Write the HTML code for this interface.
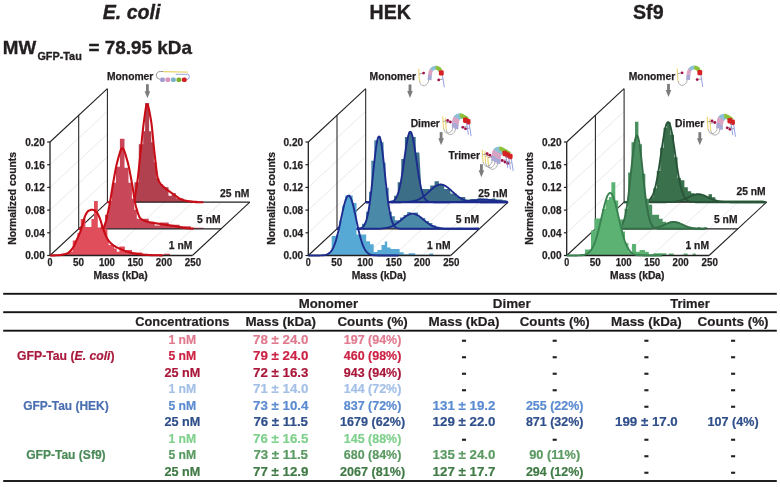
<!DOCTYPE html>
<html><head><meta charset="utf-8"><style>
html,body{margin:0;padding:0;background:#fff;}
body{width:780px;height:487px;position:relative;overflow:hidden;font-family:"Liberation Sans",sans-serif;}
</style></head><body>
<svg width="780" height="487" viewBox="0 0 780 487" style="position:absolute;left:0;top:0;filter:blur(0.3px)"><rect width="780" height="487" fill="#fff"/><g font-family="Liberation Sans, sans-serif"><text x="131.60" y="18.80" font-size="19.6" text-anchor="middle" fill="#231f20" font-weight="bold" font-style="italic" stroke="#231f20" stroke-width="0.35" >E. coli</text><text x="390.30" y="18.80" font-size="19.6" text-anchor="middle" fill="#231f20" font-weight="bold" font-style="normal" stroke="#231f20" stroke-width="0.35" >HEK</text><text x="648.30" y="18.80" font-size="19.6" text-anchor="middle" fill="#231f20" font-weight="bold" font-style="normal" stroke="#231f20" stroke-width="0.35" >Sf9</text><text x="2.80" y="54.20" font-size="19" text-anchor="start" fill="#231f20" font-weight="bold" font-style="normal" stroke="#231f20" stroke-width="0.35" textLength="33.4" lengthAdjust="spacingAndGlyphs">MW</text><text x="37.40" y="60.20" font-size="10" text-anchor="start" fill="#231f20" font-weight="bold" font-style="normal" stroke="#231f20" stroke-width="0.3" textLength="44.4" lengthAdjust="spacingAndGlyphs">GFP-Tau</text><text x="88.60" y="54.20" font-size="19" text-anchor="start" fill="#231f20" font-weight="bold" font-style="normal" stroke="#231f20" stroke-width="0.35" textLength="103.4" lengthAdjust="spacingAndGlyphs">= 78.95 kDa</text><line x1="50.0" y1="232.8" x2="107.4" y2="179.5" stroke="#e6e6e6" stroke-width="0.9"/><line x1="50.0" y1="210.1" x2="107.4" y2="156.8" stroke="#e6e6e6" stroke-width="0.9"/><line x1="50.0" y1="187.4" x2="107.4" y2="134.1" stroke="#e6e6e6" stroke-width="0.9"/><line x1="50.0" y1="164.7" x2="107.4" y2="111.4" stroke="#e6e6e6" stroke-width="0.9"/><line x1="78.5" y1="255.5" x2="135.9" y2="202.2" stroke="#e6e6e6" stroke-width="0.9"/><line x1="107.0" y1="255.5" x2="164.4" y2="202.2" stroke="#e6e6e6" stroke-width="0.9"/><line x1="135.4" y1="255.5" x2="192.8" y2="202.2" stroke="#e6e6e6" stroke-width="0.9"/><line x1="163.9" y1="255.5" x2="221.3" y2="202.2" stroke="#e6e6e6" stroke-width="0.9"/><line x1="50.0" y1="142.0" x2="107.4" y2="88.7" stroke="#231f20" stroke-width="1.05"/><line x1="50.0" y1="255.5" x2="107.4" y2="202.2" stroke="#231f20" stroke-width="1.05"/><line x1="192.4" y1="255.5" x2="249.8" y2="202.2" stroke="#231f20" stroke-width="1.05"/><line x1="107.4" y1="202.2" x2="107.4" y2="88.7" stroke="#231f20" stroke-width="1.05"/><polygon points="131.4,202.2 131.4,201.2 134.4,201.2 134.4,182.2 138.8,182.2 138.8,144.2 143.2,144.2 143.2,131.2 145.1,131.2 145.1,102.9 149.1,102.9 149.1,131.2 151.3,131.2 151.3,142.2 153.9,142.2 153.9,162.2 156.4,162.2 156.4,178.2 159.4,178.2 159.4,184.2 163.0,184.2 163.0,187.2 168.5,187.2 168.5,195.8 171.8,195.8 171.8,193.2 175.9,193.2 175.9,198.2 183.4,198.2 183.4,200.7 197.4,200.7 197.4,202.2 249.8,202.2 249.8,202.2" fill="#b2414f"/><line x1="107.4" y1="202.2" x2="249.8" y2="202.2" stroke="#231f20" stroke-width="1.3"/><path d="M107.4,202.2 L108.1,202.2 L108.8,202.2 L109.5,202.2 L110.2,202.2 L110.9,202.2 L111.6,202.2 L112.3,202.2 L113.0,202.2 L113.7,202.2 L114.4,202.2 L115.1,202.2 L115.8,202.2 L116.5,202.2 L117.2,202.2 L117.9,202.2 L118.6,202.2 L119.3,202.2 L120.0,202.2 L120.7,202.2 L121.4,202.2 L122.1,202.2 L122.8,202.2 L123.5,202.2 L124.2,202.2 L124.9,202.2 L125.6,202.2 L126.3,202.2 L127.0,202.2 L127.7,202.2 L128.4,202.2 L129.1,202.2 L129.8,202.2 L130.5,202.1 L131.2,202.1 L131.9,202.0 L132.6,202.0 L133.3,201.9 L134.0,200.8 L134.7,198.2 L135.4,194.3 L136.1,189.9 L136.8,185.4 L137.5,180.6 L138.2,174.8 L138.9,168.3 L139.6,161.5 L140.3,154.9 L141.0,148.4 L141.7,141.5 L142.4,134.6 L143.1,128.1 L143.8,122.4 L144.5,117.4 L145.2,112.2 L145.9,107.7 L146.6,104.9 L147.3,104.5 L148.0,105.8 L148.7,108.2 L149.4,111.5 L150.1,115.2 L150.8,119.3 L151.5,123.7 L152.2,129.8 L152.9,137.0 L153.6,144.5 L154.3,151.4 L155.0,157.4 L155.7,163.6 L156.4,169.7 L157.1,174.9 L157.8,178.7 L158.5,180.6 L159.2,181.9 L159.9,183.0 L160.6,183.9 L161.3,184.7 L162.0,185.3 L162.7,186.0 L163.4,186.6 L164.1,187.2 L164.8,187.8 L165.5,188.4 L166.2,189.0 L166.9,189.6 L167.6,190.1 L168.3,190.6 L169.0,191.1 L169.7,191.6 L170.4,192.1 L171.1,192.6 L171.8,193.1 L172.5,193.5 L173.2,194.0 L173.9,194.5 L174.6,195.0 L175.3,195.5 L176.0,196.0 L176.7,196.6 L177.4,197.1 L178.1,197.6 L178.8,198.1 L179.5,198.5 L180.2,198.9 L180.9,199.3 L181.6,199.6 L182.3,199.9 L183.0,200.1 L183.7,200.3 L184.4,200.4 L185.1,200.6 L185.8,200.7 L186.5,200.8 L187.2,201.0 L187.9,201.1 L188.6,201.2 L189.3,201.3 L190.0,201.4 L190.7,201.5 L191.4,201.6 L192.1,201.7 L192.8,201.8 L193.5,201.9 L194.2,202.0 L194.9,202.0 L195.6,202.1 L196.3,202.1 L197.0,202.1 L197.7,202.2 L198.4,202.2 L199.1,202.2 L199.8,202.2 L200.5,202.2 L201.2,202.2 L201.9,202.2 L202.6,202.2 L203.3,202.2" fill="none" stroke="#c80d16" stroke-width="2.1" stroke-linejoin="round"/><line x1="78.7" y1="228.8" x2="78.7" y2="115.3" stroke="#231f20" stroke-width="1.05"/><polygon points="100.7,228.8 100.7,225.8 105.0,225.8 105.0,214.7 108.9,214.7 108.9,200.8 111.9,200.8 111.9,182.8 115.9,182.8 115.9,166.8 119.9,166.8 119.9,138.8 124.5,138.8 124.5,167.8 128.5,167.8 128.5,182.8 131.9,182.8 131.9,198.8 134.3,198.8 134.3,209.8 136.8,209.8 136.8,218.8 144.7,218.8 144.7,218.8 148.7,218.8 148.7,221.8 154.7,221.8 154.7,225.5 159.7,225.5 159.7,222.5 168.7,222.5 168.7,224.8 179.7,224.8 179.7,226.3 190.7,226.3 190.7,227.8 203.7,227.8 203.7,228.8 221.1,228.8 221.1,228.8" fill="#c8485a"/><line x1="78.7" y1="228.8" x2="221.1" y2="228.8" stroke="#231f20" stroke-width="1.3"/><path d="M78.7,228.8 L79.4,228.8 L80.1,228.8 L80.8,228.8 L81.5,228.8 L82.2,228.8 L82.9,228.8 L83.6,228.8 L84.3,228.8 L85.0,228.8 L85.7,228.8 L86.4,228.8 L87.1,228.8 L87.8,228.8 L88.5,228.8 L89.2,228.8 L89.9,228.8 L90.6,228.8 L91.3,228.8 L92.0,228.8 L92.7,228.8 L93.4,228.8 L94.1,228.8 L94.8,228.8 L95.5,228.8 L96.2,228.8 L96.9,228.8 L97.6,228.8 L98.3,228.8 L99.0,228.8 L99.7,228.8 L100.4,228.8 L101.1,228.8 L101.8,228.8 L102.5,228.8 L103.2,228.5 L103.9,227.3 L104.6,225.4 L105.3,223.2 L106.0,221.0 L106.7,218.4 L107.4,215.3 L108.1,212.0 L108.8,208.5 L109.5,204.9 L110.2,201.1 L110.9,196.9 L111.6,192.5 L112.3,188.1 L113.0,183.8 L113.7,179.9 L114.4,176.0 L115.1,172.1 L115.8,168.5 L116.5,165.1 L117.2,162.2 L117.9,159.6 L118.6,157.0 L119.3,154.5 L120.0,152.2 L120.7,150.3 L121.4,148.9 L122.1,148.3 L122.8,148.4 L123.5,149.3 L124.2,150.8 L124.9,152.7 L125.6,154.9 L126.3,157.3 L127.0,159.7 L127.7,162.1 L128.4,164.9 L129.1,168.1 L129.8,171.6 L130.5,175.4 L131.2,179.2 L131.9,182.9 L132.6,187.0 L133.3,191.5 L134.0,196.1 L134.7,200.4 L135.4,204.2 L136.1,207.0 L136.8,209.4 L137.5,211.8 L138.2,213.9 L138.9,215.7 L139.6,217.2 L140.3,218.3 L141.0,218.9 L141.7,219.4 L142.4,219.8 L143.1,220.2 L143.8,220.5 L144.5,220.8 L145.2,221.1 L145.9,221.3 L146.6,221.5 L147.3,221.7 L148.0,221.9 L148.7,222.1 L149.4,222.2 L150.1,222.4 L150.8,222.5 L151.5,222.7 L152.2,222.8 L152.9,222.9 L153.6,223.0 L154.3,223.1 L155.0,223.2 L155.7,223.3 L156.4,223.4 L157.1,223.5 L157.8,223.6 L158.5,223.7 L159.2,223.8 L159.9,223.9 L160.6,224.0 L161.3,224.1 L162.0,224.2 L162.7,224.4 L163.4,224.5 L164.1,224.6 L164.8,224.7 L165.5,224.8 L166.2,224.9 L166.9,225.0 L167.6,225.1 L168.3,225.2 L169.0,225.3 L169.7,225.4 L170.4,225.5 L171.1,225.6 L171.8,225.7 L172.5,225.8 L173.2,225.9 L173.9,226.0 L174.6,226.1 L175.3,226.2 L176.0,226.4 L176.7,226.5 L177.4,226.6 L178.1,226.8 L178.8,226.9 L179.5,227.0 L180.2,227.2 L180.9,227.3 L181.6,227.4 L182.3,227.6 L183.0,227.7 L183.7,227.8 L184.4,227.9 L185.1,228.0 L185.8,228.1 L186.5,228.2 L187.2,228.2 L187.9,228.3 L188.6,228.3 L189.3,228.4 L190.0,228.4 L190.7,228.5 L191.4,228.5 L192.1,228.5 L192.8,228.6 L193.5,228.6" fill="none" stroke="#c80d16" stroke-width="2.1" stroke-linejoin="round"/><line x1="50.0" y1="255.5" x2="50.0" y2="142.0" stroke="#231f20" stroke-width="1.3"/><polygon points="65.0,255.5 65.0,254.0 68.0,254.0 68.0,251.5 72.7,251.5 72.7,240.5 77.4,240.5 77.4,233.1 80.7,233.1 80.7,219.1 85.4,219.1 85.4,227.1 91.4,227.1 91.4,219.1 94.0,219.1 94.0,201.0 97.8,201.0 97.8,227.7 100.0,227.7 100.0,228.4 107.4,228.4 107.4,239.5 108.7,239.5 108.7,245.1 114.0,245.1 114.0,248.5 116.8,248.5 116.8,251.8 119.4,251.8 119.4,246.5 124.8,246.5 124.8,250.0 132.0,250.0 132.0,252.5 142.3,252.5 142.3,254.5 164.0,254.5 164.0,253.8 170.0,253.8 170.0,255.5 192.4,255.5 192.4,255.5" fill="#e04d5b"/><line x1="50.0" y1="255.5" x2="192.4" y2="255.5" stroke="#231f20" stroke-width="1.3"/><path d="M50.0,255.5 L50.7,255.5 L51.4,255.5 L52.1,255.5 L52.8,255.5 L53.5,255.4 L54.2,255.4 L54.9,255.4 L55.6,255.3 L56.3,255.3 L57.0,255.3 L57.7,255.2 L58.4,255.2 L59.1,255.1 L59.8,255.0 L60.5,255.0 L61.2,254.9 L61.9,254.8 L62.6,254.6 L63.3,254.5 L64.0,254.3 L64.7,254.2 L65.4,254.0 L66.1,253.8 L66.8,253.6 L67.5,253.3 L68.2,252.9 L68.9,252.4 L69.6,251.8 L70.3,251.0 L71.0,250.3 L71.7,249.4 L72.4,248.5 L73.1,247.5 L73.8,246.3 L74.5,244.9 L75.2,243.4 L75.9,241.8 L76.6,240.3 L77.3,238.8 L78.0,237.2 L78.7,235.6 L79.4,233.9 L80.1,232.2 L80.8,230.3 L81.5,228.4 L82.2,226.2 L82.9,223.5 L83.6,220.8 L84.3,218.3 L85.0,216.1 L85.7,214.6 L86.4,213.4 L87.1,212.3 L87.8,211.4 L88.5,210.8 L89.2,210.4 L89.9,210.2 L90.6,209.9 L91.3,209.8 L92.0,209.7 L92.7,209.7 L93.4,209.9 L94.1,210.2 L94.8,210.6 L95.5,211.1 L96.2,211.7 L96.9,212.5 L97.6,213.6 L98.3,214.9 L99.0,216.4 L99.7,218.0 L100.4,219.9 L101.1,222.2 L101.8,224.6 L102.5,226.9 L103.2,228.9 L103.9,230.8 L104.6,232.7 L105.3,234.4 L106.0,236.0 L106.7,237.4 L107.4,238.7 L108.1,239.9 L108.8,240.9 L109.5,241.8 L110.2,242.6 L110.9,243.3 L111.6,243.9 L112.3,244.5 L113.0,245.0 L113.7,245.5 L114.4,246.0 L115.1,246.4 L115.8,246.9 L116.5,247.2 L117.2,247.6 L117.9,247.9 L118.6,248.2 L119.3,248.5 L120.0,248.8 L120.7,249.1 L121.4,249.4 L122.1,249.7 L122.8,250.0 L123.5,250.3 L124.2,250.6 L124.9,250.9 L125.6,251.2 L126.3,251.4 L127.0,251.6 L127.7,251.8 L128.4,252.1 L129.1,252.3 L129.8,252.5 L130.5,252.6 L131.2,252.8 L131.9,253.0 L132.6,253.1 L133.3,253.3 L134.0,253.4 L134.7,253.5 L135.4,253.6 L136.1,253.7 L136.8,253.9 L137.5,254.0 L138.2,254.1 L138.9,254.2 L139.6,254.2 L140.3,254.3 L141.0,254.4 L141.7,254.5 L142.4,254.5 L143.1,254.6 L143.8,254.7 L144.5,254.7 L145.2,254.8 L145.9,254.8 L146.6,254.9 L147.3,254.9 L148.0,255.0 L148.7,255.0 L149.4,255.0 L150.1,255.1 L150.8,255.1 L151.5,255.1 L152.2,255.1 L152.9,255.2 L153.6,255.2 L154.3,255.2 L155.0,255.2 L155.7,255.3 L156.4,255.3 L157.1,255.3 L157.8,255.3 L158.5,255.3 L159.2,255.3 L159.9,255.4 L160.6,255.4 L161.3,255.4 L162.0,255.4 L162.7,255.4" fill="none" stroke="#c80d16" stroke-width="2.1" stroke-linejoin="round"/><line x1="47.2" y1="255.5" x2="50.0" y2="255.5" stroke="#231f20" stroke-width="1.2"/><text x="44.80" y="259.30" font-size="11" text-anchor="end" fill="#231f20" font-weight="bold" font-style="normal" stroke="#231f20" stroke-width="0.25" textLength="19.6" lengthAdjust="spacingAndGlyphs">0.00</text><line x1="47.2" y1="232.8" x2="50.0" y2="232.8" stroke="#231f20" stroke-width="1.2"/><text x="44.80" y="236.60" font-size="11" text-anchor="end" fill="#231f20" font-weight="bold" font-style="normal" stroke="#231f20" stroke-width="0.25" textLength="19.6" lengthAdjust="spacingAndGlyphs">0.04</text><line x1="47.2" y1="210.1" x2="50.0" y2="210.1" stroke="#231f20" stroke-width="1.2"/><text x="44.80" y="213.90" font-size="11" text-anchor="end" fill="#231f20" font-weight="bold" font-style="normal" stroke="#231f20" stroke-width="0.25" textLength="19.6" lengthAdjust="spacingAndGlyphs">0.08</text><line x1="47.2" y1="187.4" x2="50.0" y2="187.4" stroke="#231f20" stroke-width="1.2"/><text x="44.80" y="191.20" font-size="11" text-anchor="end" fill="#231f20" font-weight="bold" font-style="normal" stroke="#231f20" stroke-width="0.25" textLength="19.6" lengthAdjust="spacingAndGlyphs">0.12</text><line x1="47.2" y1="164.7" x2="50.0" y2="164.7" stroke="#231f20" stroke-width="1.2"/><text x="44.80" y="168.50" font-size="11" text-anchor="end" fill="#231f20" font-weight="bold" font-style="normal" stroke="#231f20" stroke-width="0.25" textLength="19.6" lengthAdjust="spacingAndGlyphs">0.16</text><line x1="47.2" y1="142.0" x2="50.0" y2="142.0" stroke="#231f20" stroke-width="1.2"/><text x="44.80" y="145.80" font-size="11" text-anchor="end" fill="#231f20" font-weight="bold" font-style="normal" stroke="#231f20" stroke-width="0.25" textLength="19.6" lengthAdjust="spacingAndGlyphs">0.20</text><text x="50.00" y="265.70" font-size="11" text-anchor="middle" fill="#231f20" font-weight="bold" font-style="normal" stroke="#231f20" stroke-width="0.25" textLength="5.0" lengthAdjust="spacingAndGlyphs">0</text><text x="78.48" y="265.70" font-size="11" text-anchor="middle" fill="#231f20" font-weight="bold" font-style="normal" stroke="#231f20" stroke-width="0.25" textLength="11.0" lengthAdjust="spacingAndGlyphs">50</text><text x="106.96" y="265.70" font-size="11" text-anchor="middle" fill="#231f20" font-weight="bold" font-style="normal" stroke="#231f20" stroke-width="0.25" textLength="16.0" lengthAdjust="spacingAndGlyphs">100</text><text x="135.44" y="265.70" font-size="11" text-anchor="middle" fill="#231f20" font-weight="bold" font-style="normal" stroke="#231f20" stroke-width="0.25" textLength="16.0" lengthAdjust="spacingAndGlyphs">150</text><text x="163.92" y="265.70" font-size="11" text-anchor="middle" fill="#231f20" font-weight="bold" font-style="normal" stroke="#231f20" stroke-width="0.25" textLength="16.3" lengthAdjust="spacingAndGlyphs">200</text><text x="193.00" y="265.70" font-size="11" text-anchor="middle" fill="#231f20" font-weight="bold" font-style="normal" stroke="#231f20" stroke-width="0.25" textLength="16.3" lengthAdjust="spacingAndGlyphs">250</text><text x="120.60" y="278.80" font-size="10.3" text-anchor="middle" fill="#231f20" font-weight="bold" font-style="normal" stroke="#231f20" stroke-width="0.25" >Mass (kDa)</text><text x="0" y="0" font-size="10.4" text-anchor="middle" fill="#231f20" stroke="#231f20" stroke-width="0.25" font-weight="bold" transform="translate(16.40,198.4) rotate(-90)">Normalized counts</text><text x="168.80" y="249.20" font-size="10.3" text-anchor="start" fill="#231f20" font-weight="bold" font-style="normal" stroke="#231f20" stroke-width="0.25" >1 nM</text><text x="197.10" y="222.90" font-size="10.3" text-anchor="start" fill="#231f20" font-weight="bold" font-style="normal" stroke="#231f20" stroke-width="0.25" >5 nM</text><text x="220.10" y="196.80" font-size="10.3" text-anchor="start" fill="#231f20" font-weight="bold" font-style="normal" stroke="#231f20" stroke-width="0.25" >25 nM</text><line x1="308.3" y1="232.8" x2="365.7" y2="179.5" stroke="#e6e6e6" stroke-width="0.9"/><line x1="308.3" y1="210.1" x2="365.7" y2="156.8" stroke="#e6e6e6" stroke-width="0.9"/><line x1="308.3" y1="187.4" x2="365.7" y2="134.1" stroke="#e6e6e6" stroke-width="0.9"/><line x1="308.3" y1="164.7" x2="365.7" y2="111.4" stroke="#e6e6e6" stroke-width="0.9"/><line x1="336.8" y1="255.5" x2="394.2" y2="202.2" stroke="#e6e6e6" stroke-width="0.9"/><line x1="365.3" y1="255.5" x2="422.7" y2="202.2" stroke="#e6e6e6" stroke-width="0.9"/><line x1="393.7" y1="255.5" x2="451.1" y2="202.2" stroke="#e6e6e6" stroke-width="0.9"/><line x1="422.2" y1="255.5" x2="479.6" y2="202.2" stroke="#e6e6e6" stroke-width="0.9"/><line x1="308.3" y1="142.0" x2="365.7" y2="88.7" stroke="#231f20" stroke-width="1.05"/><line x1="308.3" y1="255.5" x2="365.7" y2="202.2" stroke="#231f20" stroke-width="1.05"/><line x1="450.7" y1="255.5" x2="508.1" y2="202.2" stroke="#231f20" stroke-width="1.05"/><line x1="365.7" y1="202.2" x2="365.7" y2="88.7" stroke="#231f20" stroke-width="1.05"/><polygon points="390.5,202.2 390.5,200.8 394.1,200.8 394.1,195.8 397.7,195.8 397.7,182.3 401.3,182.3 401.3,159.1 404.9,159.1 404.9,137.0 408.5,137.0 408.5,131.8 412.1,131.8 412.1,137.0 415.7,137.0 415.7,152.6 419.3,152.6 421.4,189.0 430.2,189.0 430.2,185.5 434.6,185.5 434.6,181.2 438.9,181.2 438.9,184.7 444.2,184.7 444.2,189.0 450.4,189.0 450.4,193.4 456.6,193.4 456.6,196.9 465.3,196.9 465.3,199.5 470.2,199.5 470.2,199.1 473.8,199.1 473.8,199.3 477.4,199.3 477.4,198.2 481.0,198.2 481.0,198.6 484.6,198.6 484.6,198.7 488.2,198.7 488.2,199.0 491.8,199.0 491.8,198.6 495.4,198.6 495.4,199.6 499.0,199.6 499.0,199.5 502.6,199.5 502.6,200.2 506.2,200.2 506.2,202.2" fill="#3d6e88"/><line x1="365.7" y1="202.2" x2="508.1" y2="202.2" stroke="#231f20" stroke-width="1.3"/><path d="M365.7,202.2 L366.4,202.2 L367.1,202.2 L367.8,202.2 L368.5,202.2 L369.2,202.2 L369.9,202.2 L370.6,202.2 L371.3,202.2 L372.0,202.2 L372.7,202.2 L373.4,202.2 L374.1,202.2 L374.8,202.2 L375.5,202.2 L376.2,202.2 L376.9,202.2 L377.6,202.2 L378.3,202.2 L379.0,202.2 L379.7,202.2 L380.4,202.2 L381.1,202.2 L381.8,202.2 L382.5,202.2 L383.2,202.2 L383.9,202.2 L384.6,202.2 L385.3,202.2 L386.0,202.2 L386.7,202.2 L387.4,202.2 L388.1,202.1 L388.8,202.1 L389.5,202.0 L390.2,201.9 L390.9,201.8 L391.6,201.7 L392.3,201.4 L393.0,201.1 L393.7,200.7 L394.4,200.1 L395.1,199.4 L395.8,198.4 L396.5,197.2 L397.2,195.7 L397.9,193.9 L398.6,191.7 L399.3,189.1 L400.0,186.1 L400.7,182.6 L401.4,178.8 L402.1,174.5 L402.8,170.0 L403.5,165.2 L404.2,160.2 L404.9,155.2 L405.6,150.4 L406.3,145.8 L407.0,141.7 L407.7,138.1 L408.4,135.2 L409.1,133.2 L409.8,132.0 L410.5,131.8 L411.2,132.6 L411.9,134.3 L412.6,136.8 L413.3,140.1 L414.0,144.0 L414.7,148.4 L415.4,153.1 L416.1,158.1 L416.8,163.1 L417.5,167.9 L418.2,172.6 L418.9,177.0 L419.6,181.0 L420.3,184.6 L421.0,187.8 L421.7,190.6 L422.4,193.0 L423.1,195.0 L423.8,196.6 L424.5,197.9 L425.2,199.0 L425.9,199.8 L426.6,200.4 L427.3,200.9 L428.0,201.3 L428.7,201.6 L429.4,201.8 L430.1,201.9 L430.8,202.0 L431.5,202.1 L432.2,202.1 L432.9,202.1 L433.6,202.2 L434.3,202.2 L435.0,202.2 L435.7,202.2 L436.4,202.2 L437.1,202.2 L437.8,202.2 L438.5,202.2 L439.2,202.2 L439.9,202.2 L440.6,202.2 L441.3,202.2 L442.0,202.2 L442.7,202.2 L443.4,202.2 L444.1,202.2 L444.8,202.2 L445.5,202.2 L446.2,202.2 L446.9,202.2 L447.6,202.2 L448.3,202.2 L449.0,202.2 L449.7,202.2 L450.4,202.2 L451.1,202.2 L451.8,202.2 L452.5,202.2 L453.2,202.2 L453.9,202.2 L454.6,202.2 L455.3,202.2 L456.0,202.2 L456.7,202.2 L457.4,202.2 L458.1,202.2 L458.8,202.2 L459.5,202.2 L460.2,202.2 L460.9,202.2 L461.6,202.2 L462.3,202.2 L463.0,202.2 L463.7,202.2 L464.4,202.2 L465.1,202.2 L465.8,202.2 L466.5,202.2 L467.2,202.2 L467.9,202.2 L468.6,202.2 L469.3,202.2 L470.0,202.2 L470.7,202.2 L471.4,202.2 L472.1,202.2 L472.8,202.2 L473.5,202.2 L474.2,202.2 L474.9,202.2 L475.6,202.2 L476.3,202.2 L477.0,202.2 L477.7,202.2 L478.4,202.2 L479.1,202.2 L479.8,202.2 L480.5,202.2 L481.2,202.2 L481.9,202.2 L482.6,202.2 L483.3,202.2 L484.0,202.2 L484.7,202.2 L485.4,202.2 L486.1,202.2 L486.8,202.2 L487.5,202.2 L488.2,202.2 L488.9,202.2 L489.6,202.2 L490.3,202.2 L491.0,202.2 L491.7,202.2 L492.4,202.2 L493.1,202.2 L493.8,202.2 L494.5,202.2 L495.2,202.2 L495.9,202.2 L496.6,202.2 L497.3,202.2 L498.0,202.2 L498.7,202.2 L499.4,202.2 L500.1,202.2 L500.8,202.2 L501.5,202.2 L502.2,202.2 L502.9,202.2 L503.6,202.2 L504.3,202.2 L505.0,202.2 L505.7,202.2 L506.4,202.2 L507.1,202.2 L507.8,202.2" fill="none" stroke="#1c2c8e" stroke-width="1.9" stroke-linejoin="round"/><path d="M365.7,202.2 L366.4,202.2 L367.1,202.2 L367.8,202.2 L368.5,202.2 L369.2,202.2 L369.9,202.2 L370.6,202.2 L371.3,202.2 L372.0,202.2 L372.7,202.2 L373.4,202.2 L374.1,202.2 L374.8,202.2 L375.5,202.2 L376.2,202.2 L376.9,202.2 L377.6,202.2 L378.3,202.2 L379.0,202.2 L379.7,202.2 L380.4,202.2 L381.1,202.2 L381.8,202.2 L382.5,202.2 L383.2,202.2 L383.9,202.2 L384.6,202.2 L385.3,202.2 L386.0,202.2 L386.7,202.2 L387.4,202.2 L388.1,202.2 L388.8,202.2 L389.5,202.2 L390.2,202.2 L390.9,202.2 L391.6,202.2 L392.3,202.2 L393.0,202.2 L393.7,202.2 L394.4,202.2 L395.1,202.2 L395.8,202.2 L396.5,202.2 L397.2,202.2 L397.9,202.2 L398.6,202.2 L399.3,202.2 L400.0,202.2 L400.7,202.2 L401.4,202.1 L402.1,202.1 L402.8,202.1 L403.5,202.1 L404.2,202.1 L404.9,202.1 L405.6,202.0 L406.3,202.0 L407.0,202.0 L407.7,201.9 L408.4,201.9 L409.1,201.8 L409.8,201.7 L410.5,201.6 L411.2,201.5 L411.9,201.4 L412.6,201.3 L413.3,201.2 L414.0,201.0 L414.7,200.8 L415.4,200.6 L416.1,200.4 L416.8,200.2 L417.5,199.9 L418.2,199.6 L418.9,199.3 L419.6,198.9 L420.3,198.5 L421.0,198.1 L421.7,197.7 L422.4,197.2 L423.1,196.7 L423.8,196.2 L424.5,195.6 L425.2,195.1 L425.9,194.5 L426.6,193.9 L427.3,193.2 L428.0,192.6 L428.7,191.9 L429.4,191.3 L430.1,190.6 L430.8,190.0 L431.5,189.3 L432.2,188.7 L432.9,188.1 L433.6,187.6 L434.3,187.0 L435.0,186.5 L435.7,186.1 L436.4,185.7 L437.1,185.3 L437.8,185.1 L438.5,184.8 L439.2,184.6 L439.9,184.5 L440.6,184.5 L441.3,184.5 L442.0,184.6 L442.7,184.8 L443.4,185.0 L444.1,185.3 L444.8,185.6 L445.5,186.0 L446.2,186.4 L446.9,186.9 L447.6,187.4 L448.3,188.0 L449.0,188.6 L449.7,189.2 L450.4,189.8 L451.1,190.4 L451.8,191.1 L452.5,191.7 L453.2,192.4 L453.9,193.0 L454.6,193.7 L455.3,194.3 L456.0,194.9 L456.7,195.5 L457.4,196.0 L458.1,196.6 L458.8,197.1 L459.5,197.5 L460.2,198.0 L460.9,198.4 L461.6,198.8 L462.3,199.2 L463.0,199.5 L463.7,199.8 L464.4,200.1 L465.1,200.3 L465.8,200.6 L466.5,200.8 L467.2,201.0 L467.9,201.1 L468.6,201.3 L469.3,201.4 L470.0,201.5 L470.7,201.6 L471.4,201.7 L472.1,201.8 L472.8,201.8 L473.5,201.9 L474.2,201.9 L474.9,202.0 L475.6,202.0 L476.3,202.1 L477.0,202.1 L477.7,202.1 L478.4,202.1 L479.1,202.1 L479.8,202.1 L480.5,202.2 L481.2,202.2 L481.9,202.2 L482.6,202.2 L483.3,202.2 L484.0,202.2 L484.7,202.2 L485.4,202.2 L486.1,202.2 L486.8,202.2 L487.5,202.2 L488.2,202.2 L488.9,202.2 L489.6,202.2 L490.3,202.2 L491.0,202.2 L491.7,202.2 L492.4,202.2 L493.1,202.2 L493.8,202.2 L494.5,202.2 L495.2,202.2 L495.9,202.2 L496.6,202.2 L497.3,202.2 L498.0,202.2 L498.7,202.2 L499.4,202.2 L500.1,202.2 L500.8,202.2 L501.5,202.2 L502.2,202.2 L502.9,202.2 L503.6,202.2 L504.3,202.2 L505.0,202.2 L505.7,202.2 L506.4,202.2 L507.1,202.2 L507.8,202.2" fill="none" stroke="#1c2c8e" stroke-width="1.9" stroke-linejoin="round"/><path d="M365.7,202.2 L366.4,202.2 L367.1,202.2 L367.8,202.2 L368.5,202.2 L369.2,202.2 L369.9,202.2 L370.6,202.2 L371.3,202.2 L372.0,202.2 L372.7,202.2 L373.4,202.2 L374.1,202.2 L374.8,202.2 L375.5,202.2 L376.2,202.2 L376.9,202.2 L377.6,202.2 L378.3,202.2 L379.0,202.2 L379.7,202.2 L380.4,202.2 L381.1,202.2 L381.8,202.2 L382.5,202.2 L383.2,202.2 L383.9,202.2 L384.6,202.2 L385.3,202.2 L386.0,202.2 L386.7,202.2 L387.4,202.2 L388.1,202.2 L388.8,202.2 L389.5,202.2 L390.2,202.2 L390.9,202.2 L391.6,202.2 L392.3,202.2 L393.0,202.2 L393.7,202.2 L394.4,202.2 L395.1,202.2 L395.8,202.2 L396.5,202.2 L397.2,202.2 L397.9,202.2 L398.6,202.2 L399.3,202.2 L400.0,202.2 L400.7,202.2 L401.4,202.2 L402.1,202.2 L402.8,202.2 L403.5,202.2 L404.2,202.2 L404.9,202.2 L405.6,202.2 L406.3,202.2 L407.0,202.2 L407.7,202.2 L408.4,202.2 L409.1,202.2 L409.8,202.2 L410.5,202.2 L411.2,202.2 L411.9,202.2 L412.6,202.2 L413.3,202.2 L414.0,202.2 L414.7,202.2 L415.4,202.2 L416.1,202.2 L416.8,202.2 L417.5,202.2 L418.2,202.2 L418.9,202.2 L419.6,202.2 L420.3,202.2 L421.0,202.2 L421.7,202.2 L422.4,202.2 L423.1,202.2 L423.8,202.2 L424.5,202.2 L425.2,202.2 L425.9,202.2 L426.6,202.2 L427.3,202.2 L428.0,202.2 L428.7,202.2 L429.4,202.2 L430.1,202.2 L430.8,202.2 L431.5,202.2 L432.2,202.2 L432.9,202.2 L433.6,202.2 L434.3,202.2 L435.0,202.2 L435.7,202.2 L436.4,202.2 L437.1,202.2 L437.8,202.2 L438.5,202.2 L439.2,202.2 L439.9,202.2 L440.6,202.2 L441.3,202.2 L442.0,202.2 L442.7,202.2 L443.4,202.2 L444.1,202.2 L444.8,202.2 L445.5,202.2 L446.2,202.2 L446.9,202.2 L447.6,202.2 L448.3,202.2 L449.0,202.2 L449.7,202.2 L450.4,202.1 L451.1,202.1 L451.8,202.1 L452.5,202.1 L453.2,202.1 L453.9,202.1 L454.6,202.1 L455.3,202.0 L456.0,202.0 L456.7,202.0 L457.4,202.0 L458.1,201.9 L458.8,201.9 L459.5,201.9 L460.2,201.8 L460.9,201.8 L461.6,201.7 L462.3,201.7 L463.0,201.6 L463.7,201.6 L464.4,201.5 L465.1,201.4 L465.8,201.4 L466.5,201.3 L467.2,201.2 L467.9,201.1 L468.6,201.1 L469.3,201.0 L470.0,200.9 L470.7,200.8 L471.4,200.7 L472.1,200.6 L472.8,200.5 L473.5,200.5 L474.2,200.4 L474.9,200.3 L475.6,200.2 L476.3,200.1 L477.0,200.1 L477.7,200.0 L478.4,199.9 L479.1,199.9 L479.8,199.8 L480.5,199.8 L481.2,199.8 L481.9,199.7 L482.6,199.7 L483.3,199.7 L484.0,199.7 L484.7,199.7 L485.4,199.7 L486.1,199.7 L486.8,199.8 L487.5,199.8 L488.2,199.9 L488.9,199.9 L489.6,200.0 L490.3,200.1 L491.0,200.1 L491.7,200.2 L492.4,200.3 L493.1,200.4 L493.8,200.4 L494.5,200.5 L495.2,200.6 L495.9,200.7 L496.6,200.8 L497.3,200.9 L498.0,201.0 L498.7,201.1 L499.4,201.1 L500.1,201.2 L500.8,201.3 L501.5,201.4 L502.2,201.4 L502.9,201.5 L503.6,201.6 L504.3,201.6 L505.0,201.7 L505.7,201.7 L506.4,201.8 L507.1,201.8 L507.8,201.9" fill="none" stroke="#1c2c8e" stroke-width="1.9" stroke-linejoin="round"/><line x1="337.0" y1="228.8" x2="337.0" y2="115.3" stroke="#231f20" stroke-width="1.05"/><polygon points="359.0,228.8 359.0,227.8 362.0,227.8 362.0,223.8 366.0,223.8 366.0,211.8 369.0,211.8 369.0,191.8 371.3,191.8 371.3,160.8 374.3,160.8 374.3,140.2 378.4,140.2 378.4,136.1 380.5,136.1 380.5,142.3 383.6,142.3 383.6,162.8 385.6,162.8 385.6,187.8 388.7,187.8 388.7,211.8 391.8,211.8 391.8,216.2 394.9,216.2 394.9,220.2 400.0,220.2 400.0,217.6 403.6,217.6 403.6,215.1 407.2,215.1 407.2,212.0 410.8,212.0 410.8,214.5 414.4,214.5 414.4,212.4 418.0,212.4 418.0,217.0 421.6,217.0 421.6,217.9 425.2,217.9 425.2,220.9 428.8,220.9 428.8,222.9 432.4,222.9 432.4,225.4 436.0,225.4 436.0,226.8 439.6,226.8 439.6,227.7 443.2,227.7 443.2,228.4 446.8,228.4 446.8,228.4 450.4,228.4 450.4,228.4 454.0,228.4 454.0,228.4 457.6,228.4 457.6,227.7 461.2,227.7 461.2,228.4 464.8,228.4 464.8,228.4 468.4,228.4 468.4,228.4 472.0,228.4 472.0,228.4 475.6,228.4 475.6,227.7 479.2,227.7 479.2,228.8" fill="#4b89a9"/><line x1="337.0" y1="228.8" x2="479.4" y2="228.8" stroke="#231f20" stroke-width="1.3"/><path d="M337.0,228.8 L337.7,228.8 L338.4,228.8 L339.1,228.8 L339.8,228.8 L340.5,228.8 L341.2,228.8 L341.9,228.8 L342.6,228.8 L343.3,228.8 L344.0,228.8 L344.7,228.8 L345.4,228.8 L346.1,228.8 L346.8,228.8 L347.5,228.8 L348.2,228.8 L348.9,228.8 L349.6,228.8 L350.3,228.8 L351.0,228.8 L351.7,228.8 L352.4,228.8 L353.1,228.8 L353.8,228.8 L354.5,228.8 L355.2,228.8 L355.9,228.8 L356.6,228.8 L357.3,228.8 L358.0,228.7 L358.7,228.6 L359.4,228.5 L360.1,228.4 L360.8,228.2 L361.5,227.9 L362.2,227.5 L362.9,226.9 L363.6,226.1 L364.3,225.1 L365.0,223.8 L365.7,222.2 L366.4,220.1 L367.1,217.6 L367.8,214.5 L368.5,210.9 L369.2,206.7 L369.9,201.9 L370.6,196.5 L371.3,190.6 L372.0,184.2 L372.7,177.6 L373.4,170.9 L374.1,164.2 L374.8,157.8 L375.5,151.8 L376.2,146.6 L376.9,142.3 L377.6,139.1 L378.3,137.1 L379.0,136.4 L379.7,137.1 L380.4,139.1 L381.1,142.3 L381.8,146.6 L382.5,151.8 L383.2,157.8 L383.9,164.2 L384.6,170.9 L385.3,177.6 L386.0,184.2 L386.7,190.6 L387.4,196.5 L388.1,201.9 L388.8,206.7 L389.5,210.9 L390.2,214.5 L390.9,217.6 L391.6,220.1 L392.3,222.2 L393.0,223.8 L393.7,225.1 L394.4,226.1 L395.1,226.9 L395.8,227.5 L396.5,227.9 L397.2,228.2 L397.9,228.4 L398.6,228.5 L399.3,228.6 L400.0,228.7 L400.7,228.8 L401.4,228.8 L402.1,228.8 L402.8,228.8 L403.5,228.8 L404.2,228.8 L404.9,228.8 L405.6,228.8 L406.3,228.8 L407.0,228.8 L407.7,228.8 L408.4,228.8 L409.1,228.8 L409.8,228.8 L410.5,228.8 L411.2,228.8 L411.9,228.8 L412.6,228.8 L413.3,228.8 L414.0,228.8 L414.7,228.8 L415.4,228.8 L416.1,228.8 L416.8,228.8 L417.5,228.8 L418.2,228.8 L418.9,228.8 L419.6,228.8 L420.3,228.8 L421.0,228.8 L421.7,228.8 L422.4,228.8 L423.1,228.8 L423.8,228.8 L424.5,228.8 L425.2,228.8 L425.9,228.8 L426.6,228.8 L427.3,228.8 L428.0,228.8 L428.7,228.8 L429.4,228.8 L430.1,228.8 L430.8,228.8 L431.5,228.8 L432.2,228.8 L432.9,228.8 L433.6,228.8 L434.3,228.8 L435.0,228.8 L435.7,228.8 L436.4,228.8 L437.1,228.8 L437.8,228.8 L438.5,228.8 L439.2,228.8 L439.9,228.8 L440.6,228.8 L441.3,228.8 L442.0,228.8 L442.7,228.8 L443.4,228.8 L444.1,228.8 L444.8,228.8 L445.5,228.8 L446.2,228.8 L446.9,228.8 L447.6,228.8 L448.3,228.8 L449.0,228.8 L449.7,228.8 L450.4,228.8 L451.1,228.8 L451.8,228.8 L452.5,228.8 L453.2,228.8 L453.9,228.8 L454.6,228.8 L455.3,228.8 L456.0,228.8 L456.7,228.8 L457.4,228.8 L458.1,228.8 L458.8,228.8 L459.5,228.8 L460.2,228.8 L460.9,228.8 L461.6,228.8 L462.3,228.8 L463.0,228.8 L463.7,228.8 L464.4,228.8 L465.1,228.8 L465.8,228.8 L466.5,228.8 L467.2,228.8 L467.9,228.8 L468.6,228.8 L469.3,228.8 L470.0,228.8 L470.7,228.8 L471.4,228.8 L472.1,228.8 L472.8,228.8 L473.5,228.8 L474.2,228.8 L474.9,228.8 L475.6,228.8 L476.3,228.8 L477.0,228.8 L477.7,228.8 L478.4,228.8 L479.1,228.8" fill="none" stroke="#1c2c8e" stroke-width="1.9" stroke-linejoin="round"/><path d="M337.0,228.8 L337.7,228.8 L338.4,228.8 L339.1,228.8 L339.8,228.8 L340.5,228.8 L341.2,228.8 L341.9,228.8 L342.6,228.8 L343.3,228.8 L344.0,228.8 L344.7,228.8 L345.4,228.8 L346.1,228.8 L346.8,228.8 L347.5,228.8 L348.2,228.8 L348.9,228.8 L349.6,228.8 L350.3,228.8 L351.0,228.8 L351.7,228.8 L352.4,228.8 L353.1,228.8 L353.8,228.8 L354.5,228.8 L355.2,228.8 L355.9,228.8 L356.6,228.8 L357.3,228.8 L358.0,228.8 L358.7,228.8 L359.4,228.8 L360.1,228.8 L360.8,228.8 L361.5,228.8 L362.2,228.8 L362.9,228.8 L363.6,228.8 L364.3,228.8 L365.0,228.8 L365.7,228.8 L366.4,228.8 L367.1,228.8 L367.8,228.8 L368.5,228.8 L369.2,228.8 L369.9,228.8 L370.6,228.8 L371.3,228.8 L372.0,228.8 L372.7,228.8 L373.4,228.8 L374.1,228.8 L374.8,228.8 L375.5,228.8 L376.2,228.8 L376.9,228.8 L377.6,228.8 L378.3,228.7 L379.0,228.7 L379.7,228.7 L380.4,228.6 L381.1,228.6 L381.8,228.5 L382.5,228.5 L383.2,228.4 L383.9,228.3 L384.6,228.2 L385.3,228.1 L386.0,228.0 L386.7,227.9 L387.4,227.7 L388.1,227.6 L388.8,227.4 L389.5,227.2 L390.2,226.9 L390.9,226.7 L391.6,226.4 L392.3,226.1 L393.0,225.7 L393.7,225.3 L394.4,225.0 L395.1,224.5 L395.8,224.1 L396.5,223.6 L397.2,223.1 L397.9,222.6 L398.6,222.1 L399.3,221.5 L400.0,220.9 L400.7,220.4 L401.4,219.8 L402.1,219.2 L402.8,218.6 L403.5,218.0 L404.2,217.5 L404.9,217.0 L405.6,216.4 L406.3,216.0 L407.0,215.5 L407.7,215.1 L408.4,214.8 L409.1,214.5 L409.8,214.2 L410.5,214.0 L411.2,213.9 L411.9,213.8 L412.6,213.8 L413.3,213.8 L414.0,213.9 L414.7,214.0 L415.4,214.3 L416.1,214.5 L416.8,214.9 L417.5,215.2 L418.2,215.6 L418.9,216.1 L419.6,216.6 L420.3,217.1 L421.0,217.6 L421.7,218.2 L422.4,218.8 L423.1,219.4 L423.8,219.9 L424.5,220.5 L425.2,221.1 L425.9,221.7 L426.6,222.2 L427.3,222.7 L428.0,223.3 L428.7,223.7 L429.4,224.2 L430.1,224.7 L430.8,225.1 L431.5,225.5 L432.2,225.8 L432.9,226.1 L433.6,226.5 L434.3,226.7 L435.0,227.0 L435.7,227.2 L436.4,227.4 L437.1,227.6 L437.8,227.8 L438.5,227.9 L439.2,228.1 L439.9,228.2 L440.6,228.3 L441.3,228.4 L442.0,228.4 L442.7,228.5 L443.4,228.6 L444.1,228.6 L444.8,228.6 L445.5,228.7 L446.2,228.7 L446.9,228.7 L447.6,228.8 L448.3,228.8 L449.0,228.8 L449.7,228.8 L450.4,228.8 L451.1,228.8 L451.8,228.8 L452.5,228.8 L453.2,228.8 L453.9,228.8 L454.6,228.8 L455.3,228.8 L456.0,228.8 L456.7,228.8 L457.4,228.8 L458.1,228.8 L458.8,228.8 L459.5,228.8 L460.2,228.8 L460.9,228.8 L461.6,228.8 L462.3,228.8 L463.0,228.8 L463.7,228.8 L464.4,228.8 L465.1,228.8 L465.8,228.8 L466.5,228.8 L467.2,228.8 L467.9,228.8 L468.6,228.8 L469.3,228.8 L470.0,228.8 L470.7,228.8 L471.4,228.8 L472.1,228.8 L472.8,228.8 L473.5,228.8 L474.2,228.8 L474.9,228.8 L475.6,228.8 L476.3,228.8 L477.0,228.8 L477.7,228.8 L478.4,228.8 L479.1,228.8" fill="none" stroke="#1c2c8e" stroke-width="1.9" stroke-linejoin="round"/><line x1="308.3" y1="255.5" x2="308.3" y2="142.0" stroke="#231f20" stroke-width="1.3"/><polygon points="328.3,255.5 328.3,252.5 331.7,252.5 331.7,236.0 336.2,236.0 336.2,234.5 339.2,234.5 339.2,220.5 342.2,220.5 342.2,205.5 345.2,205.5 345.2,195.5 352.7,195.5 352.7,203.0 356.5,203.0 356.5,234.5 366.2,234.5 366.2,241.3 370.0,241.3 370.0,244.3 373.7,244.3 373.7,252.0 377.4,252.0 377.4,250.0 381.5,250.0 381.5,244.9 384.8,244.9 384.8,241.5 387.2,241.5 387.2,247.4 390.5,247.4 390.5,249.0 399.6,249.0 399.6,252.3 403.7,252.3 403.7,254.3 408.6,254.3 408.6,253.2 415.2,253.2 415.2,254.7 429.3,254.7 429.3,253.5 433.3,253.5 433.3,255.5 450.7,255.5 450.7,255.5" fill="#56a9d4"/><line x1="308.3" y1="255.5" x2="450.7" y2="255.5" stroke="#231f20" stroke-width="1.3"/><path d="M308.3,255.5 L309.0,255.5 L309.7,255.5 L310.4,255.5 L311.1,255.5 L311.8,255.5 L312.5,255.5 L313.2,255.5 L313.9,255.5 L314.6,255.5 L315.3,255.5 L316.0,255.5 L316.7,255.5 L317.4,255.5 L318.1,255.5 L318.8,255.5 L319.5,255.5 L320.2,255.4 L320.9,255.4 L321.6,255.4 L322.3,255.3 L323.0,255.3 L323.7,255.2 L324.4,255.1 L325.1,255.0 L325.8,254.8 L326.5,254.6 L327.2,254.4 L327.9,254.0 L328.6,253.6 L329.3,253.1 L330.0,252.5 L330.7,251.8 L331.4,250.9 L332.1,249.8 L332.8,248.6 L333.5,247.2 L334.2,245.5 L334.9,243.7 L335.6,241.6 L336.3,239.3 L337.0,236.8 L337.7,234.1 L338.4,231.2 L339.1,228.1 L339.8,224.9 L340.5,221.6 L341.2,218.2 L341.9,214.9 L342.6,211.6 L343.3,208.5 L344.0,205.6 L344.7,203.0 L345.4,200.7 L346.1,198.8 L346.8,197.3 L347.5,196.2 L348.2,195.7 L348.9,195.6 L349.6,196.1 L350.3,197.1 L351.0,198.5 L351.7,200.4 L352.4,202.6 L353.1,205.2 L353.8,208.1 L354.5,211.2 L355.2,214.4 L355.9,217.7 L356.6,221.1 L357.3,224.4 L358.0,227.6 L358.7,230.7 L359.4,233.7 L360.1,236.4 L360.8,239.0 L361.5,241.3 L362.2,243.4 L362.9,245.3 L363.6,247.0 L364.3,248.4 L365.0,249.7 L365.7,250.7 L366.4,251.6 L367.1,252.4 L367.8,253.0 L368.5,253.6 L369.2,254.0 L369.9,254.3 L370.6,254.6 L371.3,254.8 L372.0,255.0 L372.7,255.1 L373.4,255.2 L374.1,255.3 L374.8,255.3 L375.5,255.4 L376.2,255.4 L376.9,255.4 L377.6,255.5 L378.3,255.5 L379.0,255.5 L379.7,255.5 L380.4,255.5 L381.1,255.5 L381.8,255.5 L382.5,255.5 L383.2,255.5 L383.9,255.5 L384.6,255.5 L385.3,255.5 L386.0,255.5 L386.7,255.5 L387.4,255.5 L388.1,255.5 L388.8,255.5 L389.5,255.5 L390.2,255.5 L390.9,255.5 L391.6,255.5 L392.3,255.5 L393.0,255.5 L393.7,255.5 L394.4,255.5 L395.1,255.5 L395.8,255.5 L396.5,255.5 L397.2,255.5 L397.9,255.5 L398.6,255.5" fill="none" stroke="#1c2c8e" stroke-width="1.9" stroke-linejoin="round"/><line x1="305.5" y1="255.5" x2="308.3" y2="255.5" stroke="#231f20" stroke-width="1.2"/><text x="303.10" y="259.30" font-size="11" text-anchor="end" fill="#231f20" font-weight="bold" font-style="normal" stroke="#231f20" stroke-width="0.25" textLength="19.6" lengthAdjust="spacingAndGlyphs">0.00</text><line x1="305.5" y1="232.8" x2="308.3" y2="232.8" stroke="#231f20" stroke-width="1.2"/><text x="303.10" y="236.60" font-size="11" text-anchor="end" fill="#231f20" font-weight="bold" font-style="normal" stroke="#231f20" stroke-width="0.25" textLength="19.6" lengthAdjust="spacingAndGlyphs">0.04</text><line x1="305.5" y1="210.1" x2="308.3" y2="210.1" stroke="#231f20" stroke-width="1.2"/><text x="303.10" y="213.90" font-size="11" text-anchor="end" fill="#231f20" font-weight="bold" font-style="normal" stroke="#231f20" stroke-width="0.25" textLength="19.6" lengthAdjust="spacingAndGlyphs">0.08</text><line x1="305.5" y1="187.4" x2="308.3" y2="187.4" stroke="#231f20" stroke-width="1.2"/><text x="303.10" y="191.20" font-size="11" text-anchor="end" fill="#231f20" font-weight="bold" font-style="normal" stroke="#231f20" stroke-width="0.25" textLength="19.6" lengthAdjust="spacingAndGlyphs">0.12</text><line x1="305.5" y1="164.7" x2="308.3" y2="164.7" stroke="#231f20" stroke-width="1.2"/><text x="303.10" y="168.50" font-size="11" text-anchor="end" fill="#231f20" font-weight="bold" font-style="normal" stroke="#231f20" stroke-width="0.25" textLength="19.6" lengthAdjust="spacingAndGlyphs">0.16</text><line x1="305.5" y1="142.0" x2="308.3" y2="142.0" stroke="#231f20" stroke-width="1.2"/><text x="303.10" y="145.80" font-size="11" text-anchor="end" fill="#231f20" font-weight="bold" font-style="normal" stroke="#231f20" stroke-width="0.25" textLength="19.6" lengthAdjust="spacingAndGlyphs">0.20</text><text x="308.30" y="265.70" font-size="11" text-anchor="middle" fill="#231f20" font-weight="bold" font-style="normal" stroke="#231f20" stroke-width="0.25" textLength="5.0" lengthAdjust="spacingAndGlyphs">0</text><text x="336.78" y="265.70" font-size="11" text-anchor="middle" fill="#231f20" font-weight="bold" font-style="normal" stroke="#231f20" stroke-width="0.25" textLength="11.0" lengthAdjust="spacingAndGlyphs">50</text><text x="365.26" y="265.70" font-size="11" text-anchor="middle" fill="#231f20" font-weight="bold" font-style="normal" stroke="#231f20" stroke-width="0.25" textLength="16.0" lengthAdjust="spacingAndGlyphs">100</text><text x="393.74" y="265.70" font-size="11" text-anchor="middle" fill="#231f20" font-weight="bold" font-style="normal" stroke="#231f20" stroke-width="0.25" textLength="16.0" lengthAdjust="spacingAndGlyphs">150</text><text x="422.22" y="265.70" font-size="11" text-anchor="middle" fill="#231f20" font-weight="bold" font-style="normal" stroke="#231f20" stroke-width="0.25" textLength="16.3" lengthAdjust="spacingAndGlyphs">200</text><text x="451.30" y="265.70" font-size="11" text-anchor="middle" fill="#231f20" font-weight="bold" font-style="normal" stroke="#231f20" stroke-width="0.25" textLength="16.3" lengthAdjust="spacingAndGlyphs">250</text><text x="378.90" y="278.80" font-size="10.3" text-anchor="middle" fill="#231f20" font-weight="bold" font-style="normal" stroke="#231f20" stroke-width="0.25" >Mass (kDa)</text><text x="0" y="0" font-size="10.4" text-anchor="middle" fill="#231f20" stroke="#231f20" stroke-width="0.25" font-weight="bold" transform="translate(274.70,198.4) rotate(-90)">Normalized counts</text><text x="427.00" y="248.70" font-size="10.3" text-anchor="start" fill="#231f20" font-weight="bold" font-style="normal" stroke="#231f20" stroke-width="0.25" >1 nM</text><text x="455.70" y="222.80" font-size="10.3" text-anchor="start" fill="#231f20" font-weight="bold" font-style="normal" stroke="#231f20" stroke-width="0.25" >5 nM</text><text x="478.30" y="196.80" font-size="10.3" text-anchor="start" fill="#231f20" font-weight="bold" font-style="normal" stroke="#231f20" stroke-width="0.25" >25 nM</text><line x1="566.7" y1="232.8" x2="624.1" y2="179.5" stroke="#e6e6e6" stroke-width="0.9"/><line x1="566.7" y1="210.1" x2="624.1" y2="156.8" stroke="#e6e6e6" stroke-width="0.9"/><line x1="566.7" y1="187.4" x2="624.1" y2="134.1" stroke="#e6e6e6" stroke-width="0.9"/><line x1="566.7" y1="164.7" x2="624.1" y2="111.4" stroke="#e6e6e6" stroke-width="0.9"/><line x1="595.2" y1="255.5" x2="652.6" y2="202.2" stroke="#e6e6e6" stroke-width="0.9"/><line x1="623.7" y1="255.5" x2="681.1" y2="202.2" stroke="#e6e6e6" stroke-width="0.9"/><line x1="652.1" y1="255.5" x2="709.5" y2="202.2" stroke="#e6e6e6" stroke-width="0.9"/><line x1="680.6" y1="255.5" x2="738.0" y2="202.2" stroke="#e6e6e6" stroke-width="0.9"/><line x1="566.7" y1="142.0" x2="624.1" y2="88.7" stroke="#231f20" stroke-width="1.05"/><line x1="566.7" y1="255.5" x2="624.1" y2="202.2" stroke="#231f20" stroke-width="1.05"/><line x1="709.1" y1="255.5" x2="766.5" y2="202.2" stroke="#231f20" stroke-width="1.05"/><line x1="624.1" y1="202.2" x2="624.1" y2="88.7" stroke="#231f20" stroke-width="1.05"/><polygon points="625.7,202.2 625.7,202.2 629.1,202.2 629.1,202.2 632.6,202.2 632.6,202.2 636.1,202.2 636.1,202.2 639.5,202.2 639.5,202.1 643.0,202.1 643.0,201.9 646.4,201.9 646.4,200.8 649.9,200.8 649.9,197.3 653.3,197.3 653.3,188.2 656.8,188.2 656.8,171.0 660.2,171.0 660.2,147.8 663.6,147.8 663.6,127.8 667.1,127.8 667.1,122.3 670.6,122.3 670.6,134.8 674.0,134.8 674.0,157.2 677.5,157.2 677.5,177.9 680.9,177.9 680.9,180.2 684.4,180.2 684.4,187.2 687.8,187.2 687.8,191.2 691.2,191.2 691.2,193.2 694.7,193.2 694.7,194.3 698.2,194.3 698.2,194.3 701.6,194.3 701.6,195.2 705.1,195.2 705.1,196.7 708.5,196.7 708.5,194.2 712.0,194.2 712.0,197.2 715.4,197.2 715.4,200.4 718.9,200.4 718.9,200.4 722.3,200.4 722.3,200.4 725.8,200.4 725.8,200.4 729.2,200.4 729.2,200.4 732.7,200.4 732.7,200.4 736.1,200.4 736.1,200.4 739.6,200.4 739.6,200.4 743.0,200.4 743.0,200.4 746.5,200.4 746.5,200.4 749.9,200.4 749.9,200.4 753.4,200.4 753.4,200.4 756.8,200.4 756.8,200.4 760.2,200.4 760.2,200.4 763.7,200.4 763.7,202.2" fill="#3a704c"/><line x1="624.1" y1="202.2" x2="766.5" y2="202.2" stroke="#231f20" stroke-width="1.3"/><path d="M624.1,202.2 L624.8,202.2 L625.5,202.2 L626.2,202.2 L626.9,202.2 L627.6,202.2 L628.3,202.2 L629.0,202.2 L629.7,202.2 L630.4,202.2 L631.1,202.2 L631.8,202.2 L632.5,202.2 L633.2,202.2 L633.9,202.2 L634.6,202.2 L635.3,202.2 L636.0,202.2 L636.7,202.2 L637.4,202.2 L638.1,202.2 L638.8,202.2 L639.5,202.2 L640.2,202.2 L640.9,202.2 L641.6,202.1 L642.3,202.1 L643.0,202.1 L643.7,202.0 L644.4,201.9 L645.1,201.8 L645.8,201.7 L646.5,201.5 L647.2,201.3 L647.9,201.0 L648.6,200.5 L649.3,200.0 L650.0,199.4 L650.7,198.5 L651.4,197.5 L652.1,196.3 L652.8,194.8 L653.5,193.1 L654.2,191.0 L654.9,188.6 L655.6,185.9 L656.3,182.8 L657.0,179.4 L657.7,175.6 L658.4,171.5 L659.1,167.1 L659.8,162.5 L660.5,157.7 L661.2,152.9 L661.9,148.0 L662.6,143.3 L663.3,138.8 L664.0,134.6 L664.7,130.9 L665.4,127.7 L666.1,125.2 L666.8,123.4 L667.5,122.3 L668.2,122.0 L668.9,122.5 L669.6,123.8 L670.3,125.9 L671.0,128.6 L671.7,131.9 L672.4,135.8 L673.1,140.1 L673.8,144.6 L674.5,149.4 L675.2,154.3 L675.9,159.1 L676.6,163.8 L677.3,168.4 L678.0,172.7 L678.7,176.7 L679.4,180.4 L680.1,183.7 L680.8,186.7 L681.5,189.4 L682.2,191.7 L682.9,193.6 L683.6,195.3 L684.3,196.7 L685.0,197.9 L685.7,198.8 L686.4,199.6 L687.1,200.2 L687.8,200.7 L688.5,201.1 L689.2,201.3 L689.9,201.6 L690.6,201.7 L691.3,201.9 L692.0,202.0 L692.7,202.0 L693.4,202.1 L694.1,202.1 L694.8,202.1 L695.5,202.2 L696.2,202.2 L696.9,202.2 L697.6,202.2 L698.3,202.2 L699.0,202.2 L699.7,202.2 L700.4,202.2 L701.1,202.2 L701.8,202.2 L702.5,202.2 L703.2,202.2 L703.9,202.2 L704.6,202.2 L705.3,202.2 L706.0,202.2 L706.7,202.2 L707.4,202.2 L708.1,202.2 L708.8,202.2 L709.5,202.2 L710.2,202.2 L710.9,202.2 L711.6,202.2 L712.3,202.2 L713.0,202.2 L713.7,202.2 L714.4,202.2 L715.1,202.2 L715.8,202.2 L716.5,202.2 L717.2,202.2 L717.9,202.2 L718.6,202.2 L719.3,202.2 L720.0,202.2 L720.7,202.2 L721.4,202.2 L722.1,202.2 L722.8,202.2 L723.5,202.2 L724.2,202.2 L724.9,202.2 L725.6,202.2 L726.3,202.2 L727.0,202.2 L727.7,202.2 L728.4,202.2 L729.1,202.2 L729.8,202.2 L730.5,202.2 L731.2,202.2 L731.9,202.2 L732.6,202.2 L733.3,202.2 L734.0,202.2 L734.7,202.2 L735.4,202.2 L736.1,202.2 L736.8,202.2 L737.5,202.2 L738.2,202.2 L738.9,202.2 L739.6,202.2 L740.3,202.2 L741.0,202.2 L741.7,202.2 L742.4,202.2 L743.1,202.2 L743.8,202.2 L744.5,202.2 L745.2,202.2 L745.9,202.2 L746.6,202.2 L747.3,202.2 L748.0,202.2 L748.7,202.2 L749.4,202.2 L750.1,202.2 L750.8,202.2 L751.5,202.2 L752.2,202.2 L752.9,202.2 L753.6,202.2 L754.3,202.2 L755.0,202.2 L755.7,202.2 L756.4,202.2 L757.1,202.2 L757.8,202.2 L758.5,202.2 L759.2,202.2 L759.9,202.2 L760.6,202.2 L761.3,202.2 L762.0,202.2 L762.7,202.2 L763.4,202.2 L764.1,202.2 L764.8,202.2 L765.5,202.2 L766.2,202.2" fill="none" stroke="#285538" stroke-width="1.9" stroke-linejoin="round"/><path d="M624.1,202.2 L624.8,202.2 L625.5,202.2 L626.2,202.2 L626.9,202.2 L627.6,202.2 L628.3,202.2 L629.0,202.2 L629.7,202.2 L630.4,202.2 L631.1,202.2 L631.8,202.2 L632.5,202.2 L633.2,202.2 L633.9,202.2 L634.6,202.2 L635.3,202.2 L636.0,202.2 L636.7,202.2 L637.4,202.2 L638.1,202.2 L638.8,202.2 L639.5,202.2 L640.2,202.2 L640.9,202.2 L641.6,202.2 L642.3,202.2 L643.0,202.2 L643.7,202.2 L644.4,202.2 L645.1,202.2 L645.8,202.2 L646.5,202.2 L647.2,202.2 L647.9,202.2 L648.6,202.2 L649.3,202.2 L650.0,202.2 L650.7,202.2 L651.4,202.2 L652.1,202.2 L652.8,202.2 L653.5,202.2 L654.2,202.2 L654.9,202.2 L655.6,202.2 L656.3,202.2 L657.0,202.2 L657.7,202.2 L658.4,202.2 L659.1,202.2 L659.8,202.2 L660.5,202.2 L661.2,202.2 L661.9,202.2 L662.6,202.2 L663.3,202.2 L664.0,202.2 L664.7,202.2 L665.4,202.2 L666.1,202.2 L666.8,202.1 L667.5,202.1 L668.2,202.1 L668.9,202.1 L669.6,202.1 L670.3,202.0 L671.0,202.0 L671.7,202.0 L672.4,201.9 L673.1,201.8 L673.8,201.8 L674.5,201.7 L675.2,201.6 L675.9,201.5 L676.6,201.4 L677.3,201.3 L678.0,201.1 L678.7,201.0 L679.4,200.8 L680.1,200.6 L680.8,200.4 L681.5,200.2 L682.2,199.9 L682.9,199.7 L683.6,199.4 L684.3,199.1 L685.0,198.8 L685.7,198.5 L686.4,198.2 L687.1,197.8 L687.8,197.5 L688.5,197.2 L689.2,196.8 L689.9,196.5 L690.6,196.2 L691.3,195.9 L692.0,195.6 L692.7,195.3 L693.4,195.0 L694.1,194.8 L694.8,194.6 L695.5,194.5 L696.2,194.3 L696.9,194.3 L697.6,194.2 L698.3,194.2 L699.0,194.2 L699.7,194.3 L700.4,194.4 L701.1,194.6 L701.8,194.7 L702.5,194.9 L703.2,195.2 L703.9,195.4 L704.6,195.7 L705.3,196.0 L706.0,196.3 L706.7,196.7 L707.4,197.0 L708.1,197.3 L708.8,197.7 L709.5,198.0 L710.2,198.4 L710.9,198.7 L711.6,199.0 L712.3,199.3 L713.0,199.6 L713.7,199.8 L714.4,200.1 L715.1,200.3 L715.8,200.5 L716.5,200.7 L717.2,200.9 L717.9,201.1 L718.6,201.2 L719.3,201.4 L720.0,201.5 L720.7,201.6 L721.4,201.7 L722.1,201.8 L722.8,201.8 L723.5,201.9 L724.2,201.9 L724.9,202.0 L725.6,202.0 L726.3,202.0 L727.0,202.1 L727.7,202.1 L728.4,202.1 L729.1,202.1 L729.8,202.1 L730.5,202.2 L731.2,202.2 L731.9,202.2 L732.6,202.2 L733.3,202.2 L734.0,202.2 L734.7,202.2 L735.4,202.2 L736.1,202.2 L736.8,202.2 L737.5,202.2 L738.2,202.2 L738.9,202.2 L739.6,202.2 L740.3,202.2 L741.0,202.2 L741.7,202.2 L742.4,202.2 L743.1,202.2 L743.8,202.2 L744.5,202.2 L745.2,202.2 L745.9,202.2 L746.6,202.2 L747.3,202.2 L748.0,202.2 L748.7,202.2 L749.4,202.2 L750.1,202.2 L750.8,202.2 L751.5,202.2 L752.2,202.2 L752.9,202.2 L753.6,202.2 L754.3,202.2 L755.0,202.2 L755.7,202.2 L756.4,202.2 L757.1,202.2 L757.8,202.2 L758.5,202.2 L759.2,202.2 L759.9,202.2 L760.6,202.2 L761.3,202.2 L762.0,202.2 L762.7,202.2 L763.4,202.2 L764.1,202.2 L764.8,202.2 L765.5,202.2 L766.2,202.2" fill="none" stroke="#285538" stroke-width="1.9" stroke-linejoin="round"/><line x1="595.4" y1="228.8" x2="595.4" y2="115.3" stroke="#231f20" stroke-width="1.05"/><polygon points="597.0,228.8 597.0,228.8 600.5,228.8 600.5,228.8 603.9,228.8 603.9,228.8 607.4,228.8 607.4,228.8 610.8,228.8 610.8,228.8 614.3,228.8 614.3,228.5 617.7,228.5 617.7,226.8 621.2,226.8 621.2,219.4 624.6,219.4 624.6,208.8 628.1,208.8 628.1,172.6 631.5,172.6 631.5,142.3 635.0,142.3 635.0,121.8 638.4,121.8 638.4,144.2 641.9,144.2 641.9,173.8 645.3,173.8 645.3,198.8 648.8,198.8 648.8,204.8 652.2,204.8 652.2,214.8 655.7,214.8 655.7,214.8 659.1,214.8 659.1,218.8 662.6,218.8 662.6,221.8 666.0,221.8 666.0,223.0 669.5,223.0 669.5,221.6 672.9,221.6 672.9,221.4 676.4,221.4 676.4,222.5 679.8,222.5 679.8,223.7 683.3,223.7 683.3,225.2 686.7,225.2 686.7,226.7 690.2,226.7 690.2,227.7 693.6,227.7 693.6,228.3 697.1,228.3 697.1,227.3 700.5,227.3 700.5,228.8 704.0,228.8 704.0,227.3 707.4,227.3 707.4,228.8 710.9,228.8 710.9,228.8 714.3,228.8 714.3,228.8 717.8,228.8 717.8,228.8 721.2,228.8 721.2,228.8 724.7,228.8 724.7,228.8 728.1,228.8 728.1,228.8 731.6,228.8 731.6,228.8 735.0,228.8 735.0,228.8" fill="#4a9060"/><line x1="595.4" y1="228.8" x2="737.8" y2="228.8" stroke="#231f20" stroke-width="1.3"/><path d="M595.4,228.8 L596.1,228.8 L596.8,228.8 L597.5,228.8 L598.2,228.8 L598.9,228.8 L599.6,228.8 L600.3,228.8 L601.0,228.8 L601.7,228.8 L602.4,228.8 L603.1,228.8 L603.8,228.8 L604.5,228.8 L605.2,228.8 L605.9,228.8 L606.6,228.8 L607.3,228.8 L608.0,228.8 L608.7,228.8 L609.4,228.8 L610.1,228.8 L610.8,228.8 L611.5,228.8 L612.2,228.8 L612.9,228.8 L613.6,228.8 L614.3,228.8 L615.0,228.8 L615.7,228.7 L616.4,228.6 L617.1,228.5 L617.8,228.4 L618.5,228.1 L619.2,227.8 L619.9,227.4 L620.6,226.8 L621.3,226.0 L622.0,225.0 L622.7,223.7 L623.4,222.0 L624.1,220.0 L624.8,217.4 L625.5,214.4 L626.2,210.8 L626.9,206.6 L627.6,201.9 L628.3,196.6 L629.0,190.7 L629.7,184.5 L630.4,177.9 L631.1,171.2 L631.8,164.6 L632.5,158.1 L633.2,152.1 L633.9,146.8 L634.6,142.3 L635.3,138.8 L636.0,136.5 L636.7,135.5 L637.4,135.8 L638.1,137.4 L638.8,140.2 L639.5,144.1 L640.2,149.0 L640.9,154.6 L641.6,160.8 L642.3,167.4 L643.0,174.1 L643.7,180.8 L644.4,187.2 L645.1,193.3 L645.8,198.9 L646.5,204.0 L647.2,208.5 L647.9,212.4 L648.6,215.8 L649.3,218.6 L650.0,220.9 L650.7,222.8 L651.4,224.3 L652.1,225.5 L652.8,226.4 L653.5,227.1 L654.2,227.6 L654.9,228.0 L655.6,228.2 L656.3,228.4 L657.0,228.6 L657.7,228.7 L658.4,228.7 L659.1,228.8 L659.8,228.8 L660.5,228.8 L661.2,228.8 L661.9,228.8 L662.6,228.8 L663.3,228.8 L664.0,228.8 L664.7,228.8 L665.4,228.8 L666.1,228.8 L666.8,228.8 L667.5,228.8 L668.2,228.8 L668.9,228.8 L669.6,228.8 L670.3,228.8 L671.0,228.8 L671.7,228.8 L672.4,228.8 L673.1,228.8 L673.8,228.8 L674.5,228.8 L675.2,228.8 L675.9,228.8 L676.6,228.8 L677.3,228.8 L678.0,228.8 L678.7,228.8 L679.4,228.8 L680.1,228.8 L680.8,228.8 L681.5,228.8 L682.2,228.8 L682.9,228.8 L683.6,228.8 L684.3,228.8 L685.0,228.8 L685.7,228.8 L686.4,228.8 L687.1,228.8 L687.8,228.8 L688.5,228.8 L689.2,228.8 L689.9,228.8 L690.6,228.8 L691.3,228.8 L692.0,228.8 L692.7,228.8 L693.4,228.8 L694.1,228.8 L694.8,228.8 L695.5,228.8 L696.2,228.8 L696.9,228.8 L697.6,228.8 L698.3,228.8 L699.0,228.8 L699.7,228.8 L700.4,228.8 L701.1,228.8 L701.8,228.8 L702.5,228.8 L703.2,228.8 L703.9,228.8 L704.6,228.8 L705.3,228.8" fill="none" stroke="#346f47" stroke-width="1.9" stroke-linejoin="round"/><path d="M595.4,228.8 L596.1,228.8 L596.8,228.8 L597.5,228.8 L598.2,228.8 L598.9,228.8 L599.6,228.8 L600.3,228.8 L601.0,228.8 L601.7,228.8 L602.4,228.8 L603.1,228.8 L603.8,228.8 L604.5,228.8 L605.2,228.8 L605.9,228.8 L606.6,228.8 L607.3,228.8 L608.0,228.8 L608.7,228.8 L609.4,228.8 L610.1,228.8 L610.8,228.8 L611.5,228.8 L612.2,228.8 L612.9,228.8 L613.6,228.8 L614.3,228.8 L615.0,228.8 L615.7,228.8 L616.4,228.8 L617.1,228.8 L617.8,228.8 L618.5,228.8 L619.2,228.8 L619.9,228.8 L620.6,228.8 L621.3,228.8 L622.0,228.8 L622.7,228.8 L623.4,228.8 L624.1,228.8 L624.8,228.8 L625.5,228.8 L626.2,228.8 L626.9,228.8 L627.6,228.8 L628.3,228.8 L629.0,228.8 L629.7,228.8 L630.4,228.8 L631.1,228.8 L631.8,228.8 L632.5,228.8 L633.2,228.8 L633.9,228.8 L634.6,228.8 L635.3,228.8 L636.0,228.8 L636.7,228.8 L637.4,228.8 L638.1,228.8 L638.8,228.8 L639.5,228.8 L640.2,228.8 L640.9,228.8 L641.6,228.8 L642.3,228.8 L643.0,228.8 L643.7,228.8 L644.4,228.8 L645.1,228.8 L645.8,228.8 L646.5,228.8 L647.2,228.8 L647.9,228.7 L648.6,228.7 L649.3,228.7 L650.0,228.6 L650.7,228.6 L651.4,228.5 L652.1,228.5 L652.8,228.4 L653.5,228.3 L654.2,228.2 L654.9,228.1 L655.6,227.9 L656.3,227.8 L657.0,227.6 L657.7,227.4 L658.4,227.2 L659.1,227.0 L659.8,226.7 L660.5,226.5 L661.2,226.2 L661.9,225.9 L662.6,225.6 L663.3,225.3 L664.0,224.9 L664.7,224.6 L665.4,224.3 L666.1,224.0 L666.8,223.7 L667.5,223.4 L668.2,223.1 L668.9,222.8 L669.6,222.6 L670.3,222.4 L671.0,222.2 L671.7,222.1 L672.4,222.0 L673.1,222.0 L673.8,222.0 L674.5,222.0 L675.2,222.1 L675.9,222.2 L676.6,222.3 L677.3,222.5 L678.0,222.7 L678.7,223.0 L679.4,223.2 L680.1,223.5 L680.8,223.8 L681.5,224.2 L682.2,224.5 L682.9,224.8 L683.6,225.1 L684.3,225.4 L685.0,225.8 L685.7,226.1 L686.4,226.3 L687.1,226.6 L687.8,226.9 L688.5,227.1 L689.2,227.3 L689.9,227.5 L690.6,227.7 L691.3,227.9 L692.0,228.0 L692.7,228.1 L693.4,228.2 L694.1,228.3 L694.8,228.4 L695.5,228.5 L696.2,228.6 L696.9,228.6 L697.6,228.7 L698.3,228.7 L699.0,228.7 L699.7,228.7 L700.4,228.8 L701.1,228.8 L701.8,228.8 L702.5,228.8 L703.2,228.8 L703.9,228.8 L704.6,228.8 L705.3,228.8" fill="none" stroke="#346f47" stroke-width="1.9" stroke-linejoin="round"/><line x1="566.7" y1="255.5" x2="566.7" y2="142.0" stroke="#231f20" stroke-width="1.3"/><polygon points="580.7,255.5 580.7,254.0 585.0,254.0 585.0,249.5 591.0,249.5 591.0,230.5 594.4,230.5 594.4,218.5 602.0,218.5 602.0,209.1 605.5,209.1 605.5,199.7 608.9,199.7 608.9,197.1 611.4,197.1 611.4,182.2 615.3,182.2 615.3,200.5 618.2,200.5 618.2,219.5 621.6,219.5 621.6,231.5 625.0,231.5 625.0,243.2 628.4,243.2 628.4,251.7 631.9,251.7 631.9,244.0 636.1,244.0 636.1,251.7 639.6,251.7 639.6,250.0 645.0,250.0 645.0,251.8 648.8,251.8 648.8,254.5 653.4,254.5 653.4,253.3 666.4,253.3 666.4,255.0 668.7,255.0 668.7,253.5 673.7,253.5 673.7,255.0 683.7,255.0 683.7,253.5 687.7,253.5 687.7,255.0 692.7,255.0 692.7,253.5 695.7,253.5 695.7,255.5 709.1,255.5 709.1,255.5" fill="#5cb272"/><line x1="566.7" y1="255.5" x2="709.1" y2="255.5" stroke="#231f20" stroke-width="1.3"/><path d="M566.7,255.5 L567.4,255.5 L568.1,255.5 L568.8,255.5 L569.5,255.5 L570.2,255.5 L570.9,255.5 L571.6,255.5 L572.3,255.5 L573.0,255.5 L573.7,255.5 L574.4,255.5 L575.1,255.5 L575.8,255.5 L576.5,255.5 L577.2,255.5 L577.9,255.4 L578.6,255.4 L579.3,255.4 L580.0,255.4 L580.7,255.3 L581.4,255.3 L582.1,255.2 L582.8,255.1 L583.5,255.0 L584.2,254.8 L584.9,254.6 L585.6,254.4 L586.3,254.1 L587.0,253.8 L587.7,253.4 L588.4,252.9 L589.1,252.3 L589.8,251.6 L590.5,250.8 L591.2,249.9 L591.9,248.8 L592.6,247.6 L593.3,246.2 L594.0,244.7 L594.7,242.9 L595.4,241.0 L596.1,238.9 L596.8,236.6 L597.5,234.1 L598.2,231.5 L598.9,228.7 L599.6,225.8 L600.3,222.8 L601.0,219.8 L601.7,216.7 L602.4,213.6 L603.1,210.6 L603.8,207.7 L604.5,204.9 L605.2,202.4 L605.9,200.0 L606.6,198.0 L607.3,196.2 L608.0,194.8 L608.7,193.8 L609.4,193.2 L610.1,193.0 L610.8,193.2 L611.5,193.8 L612.2,194.8 L612.9,196.2 L613.6,198.0 L614.3,200.0 L615.0,202.4 L615.7,204.9 L616.4,207.7 L617.1,210.6 L617.8,213.6 L618.5,216.7 L619.2,219.8 L619.9,222.8 L620.6,225.8 L621.3,228.7 L622.0,231.5 L622.7,234.1 L623.4,236.6 L624.1,238.9 L624.8,241.0 L625.5,242.9 L626.2,244.7 L626.9,246.2 L627.6,247.6 L628.3,248.8 L629.0,249.9 L629.7,250.8 L630.4,251.6 L631.1,252.3 L631.8,252.9 L632.5,253.4 L633.2,253.8 L633.9,254.1 L634.6,254.4 L635.3,254.6 L636.0,254.8 L636.7,255.0 L637.4,255.1 L638.1,255.2 L638.8,255.3 L639.5,255.3 L640.2,255.4 L640.9,255.4 L641.6,255.4 L642.3,255.4 L643.0,255.5 L643.7,255.5 L644.4,255.5 L645.1,255.5 L645.8,255.5 L646.5,255.5 L647.2,255.5 L647.9,255.5 L648.6,255.5 L649.3,255.5 L650.0,255.5 L650.7,255.5 L651.4,255.5 L652.1,255.5 L652.8,255.5 L653.5,255.5 L654.2,255.5 L654.9,255.5 L655.6,255.5 L656.3,255.5 L657.0,255.5 L657.7,255.5 L658.4,255.5 L659.1,255.5 L659.8,255.5 L660.5,255.5 L661.2,255.5 L661.9,255.5" fill="none" stroke="#3a8452" stroke-width="1.9" stroke-linejoin="round"/><line x1="563.9" y1="255.5" x2="566.7" y2="255.5" stroke="#231f20" stroke-width="1.2"/><text x="561.50" y="259.30" font-size="11" text-anchor="end" fill="#231f20" font-weight="bold" font-style="normal" stroke="#231f20" stroke-width="0.25" textLength="19.6" lengthAdjust="spacingAndGlyphs">0.00</text><line x1="563.9" y1="232.8" x2="566.7" y2="232.8" stroke="#231f20" stroke-width="1.2"/><text x="561.50" y="236.60" font-size="11" text-anchor="end" fill="#231f20" font-weight="bold" font-style="normal" stroke="#231f20" stroke-width="0.25" textLength="19.6" lengthAdjust="spacingAndGlyphs">0.04</text><line x1="563.9" y1="210.1" x2="566.7" y2="210.1" stroke="#231f20" stroke-width="1.2"/><text x="561.50" y="213.90" font-size="11" text-anchor="end" fill="#231f20" font-weight="bold" font-style="normal" stroke="#231f20" stroke-width="0.25" textLength="19.6" lengthAdjust="spacingAndGlyphs">0.08</text><line x1="563.9" y1="187.4" x2="566.7" y2="187.4" stroke="#231f20" stroke-width="1.2"/><text x="561.50" y="191.20" font-size="11" text-anchor="end" fill="#231f20" font-weight="bold" font-style="normal" stroke="#231f20" stroke-width="0.25" textLength="19.6" lengthAdjust="spacingAndGlyphs">0.12</text><line x1="563.9" y1="164.7" x2="566.7" y2="164.7" stroke="#231f20" stroke-width="1.2"/><text x="561.50" y="168.50" font-size="11" text-anchor="end" fill="#231f20" font-weight="bold" font-style="normal" stroke="#231f20" stroke-width="0.25" textLength="19.6" lengthAdjust="spacingAndGlyphs">0.16</text><line x1="563.9" y1="142.0" x2="566.7" y2="142.0" stroke="#231f20" stroke-width="1.2"/><text x="561.50" y="145.80" font-size="11" text-anchor="end" fill="#231f20" font-weight="bold" font-style="normal" stroke="#231f20" stroke-width="0.25" textLength="19.6" lengthAdjust="spacingAndGlyphs">0.20</text><text x="566.70" y="265.70" font-size="11" text-anchor="middle" fill="#231f20" font-weight="bold" font-style="normal" stroke="#231f20" stroke-width="0.25" textLength="5.0" lengthAdjust="spacingAndGlyphs">0</text><text x="595.18" y="265.70" font-size="11" text-anchor="middle" fill="#231f20" font-weight="bold" font-style="normal" stroke="#231f20" stroke-width="0.25" textLength="11.0" lengthAdjust="spacingAndGlyphs">50</text><text x="623.66" y="265.70" font-size="11" text-anchor="middle" fill="#231f20" font-weight="bold" font-style="normal" stroke="#231f20" stroke-width="0.25" textLength="16.0" lengthAdjust="spacingAndGlyphs">100</text><text x="652.14" y="265.70" font-size="11" text-anchor="middle" fill="#231f20" font-weight="bold" font-style="normal" stroke="#231f20" stroke-width="0.25" textLength="16.0" lengthAdjust="spacingAndGlyphs">150</text><text x="680.62" y="265.70" font-size="11" text-anchor="middle" fill="#231f20" font-weight="bold" font-style="normal" stroke="#231f20" stroke-width="0.25" textLength="16.3" lengthAdjust="spacingAndGlyphs">200</text><text x="709.70" y="265.70" font-size="11" text-anchor="middle" fill="#231f20" font-weight="bold" font-style="normal" stroke="#231f20" stroke-width="0.25" textLength="16.3" lengthAdjust="spacingAndGlyphs">250</text><text x="637.30" y="278.80" font-size="10.3" text-anchor="middle" fill="#231f20" font-weight="bold" font-style="normal" stroke="#231f20" stroke-width="0.25" >Mass (kDa)</text><text x="0" y="0" font-size="10.4" text-anchor="middle" fill="#231f20" stroke="#231f20" stroke-width="0.25" font-weight="bold" transform="translate(533.10,198.4) rotate(-90)">Normalized counts</text><text x="685.50" y="248.70" font-size="10.3" text-anchor="start" fill="#231f20" font-weight="bold" font-style="normal" stroke="#231f20" stroke-width="0.25" >1 nM</text><text x="714.00" y="222.80" font-size="10.3" text-anchor="start" fill="#231f20" font-weight="bold" font-style="normal" stroke="#231f20" stroke-width="0.25" >5 nM</text><text x="736.50" y="195.40" font-size="10.3" text-anchor="start" fill="#231f20" font-weight="bold" font-style="normal" stroke="#231f20" stroke-width="0.25" >25 nM</text><text x="107.00" y="79.90" font-size="10.3" text-anchor="start" fill="#231f20" font-weight="bold" font-style="normal" stroke="#231f20" stroke-width="0.25" >Monomer</text><rect x="146.0" y="84.2" width="2.8" height="8.1" fill="#7c7c7c"/><polygon points="144.6,91.3 150.2,91.3 147.4,98.3" fill="#7c7c7c"/><g transform="translate(156.0,71.0)"><path d="M7.5,0.5 L4.5,0.5 Q0.3,0.6 0.3,4.6 Q0.4,7.6 4,8.4" fill="none" stroke="#8a8a8a" stroke-width="0.9"/><path d="M7.3,0.7 L31.8,1.2" stroke="#e8d66e" stroke-width="1.2"/><path d="M19.7,3.3 L32,3.3 Q33.4,3.6 33.3,6 Q33,8.5 30.5,8.7" fill="none" stroke="#8c9ad8" stroke-width="0.9"/><rect x="4.1" y="6.5" width="4.8" height="4.4" rx="1.6" fill="#a29dcc"/><rect x="9.5" y="6.5" width="4.8" height="4.4" rx="1.6" fill="#d992bb"/><rect x="15.0" y="6.5" width="4.8" height="4.4" rx="1.6" fill="#7ab4cc"/><rect x="20.5" y="6.5" width="4.8" height="4.4" rx="1.6" fill="#78b02e"/><rect x="25.9" y="6.5" width="4.8" height="4.4" rx="1.6" fill="#d21f22"/></g><text x="369.60" y="80.00" font-size="10.3" text-anchor="start" fill="#231f20" font-weight="bold" font-style="normal" stroke="#231f20" stroke-width="0.25" >Monomer</text><rect x="408.6" y="84.5" width="2.8" height="7.5" fill="#7c7c7c"/><polygon points="407.2,91.0 412.8,91.0 410.0,98.0" fill="#7c7c7c"/><g transform="translate(415.0,62.0) scale(1.0)"><g transform="translate(0.0,0.0)"><path d="M3.7,6.8 Q3.9,14 4.6,19.7" fill="none" stroke="#eed77a" stroke-width="1.2"/><path d="M4.6,19.3 Q5.8,24.6 9.6,23.6 Q13.4,22.4 13.9,17" fill="none" stroke="#9a9a9a" stroke-width="0.8"/><path d="M4.2,12 L7.6,11.3" stroke="#666" stroke-width="0.6"/><circle cx="8.6" cy="11.1" r="1.4" fill="#a0104a"/><path d="M14.6,18.2 L14.9,13.0" stroke="#aaa8d4" stroke-width="3.9" fill="none"/><path d="M14.9,13.2 Q15.1,9.6 16.6,7.6" stroke="#d9a3c4" stroke-width="3.9" fill="none"/><path d="M16.4,7.9 Q18.2,5.6 21.0,5.8" stroke="#8cc0d8" stroke-width="3.9" fill="none"/><path d="M20.7,5.8 Q23.8,5.9 25.6,8.6" stroke="#8cc038" stroke-width="3.9" fill="none"/><path d="M27.4,13 L29.3,25.3" stroke="#8a96e2" stroke-width="0.9"/><rect x="23.9" y="8.2" width="4.8" height="5.4" rx="1.4" fill="#d52024"/><path d="M24.8,17.6 L27.8,17.2" stroke="#666" stroke-width="0.6"/><circle cx="23.7" cy="17.9" r="1.4" fill="#a0104a"/></g></g><text x="410.70" y="127.20" font-size="10.3" text-anchor="start" fill="#231f20" font-weight="bold" font-style="normal" stroke="#231f20" stroke-width="0.25" >Dimer</text><rect x="439.7" y="132.1" width="2.8" height="7.2" fill="#7c7c7c"/><polygon points="438.3,138.3 443.9,138.3 441.1,145.3" fill="#7c7c7c"/><g transform="translate(439.1,109.4) scale(1.0)"><g transform="translate(2.7,1.5)"><path d="M3.7,6.8 Q3.9,14 4.6,19.7" fill="none" stroke="#eed77a" stroke-width="1.2"/><path d="M4.6,19.3 Q5.8,24.6 9.6,23.6 Q13.4,22.4 13.9,17" fill="none" stroke="#9a9a9a" stroke-width="0.8"/><path d="M4.2,12 L7.6,11.3" stroke="#666" stroke-width="0.6"/><circle cx="8.6" cy="11.1" r="1.4" fill="#a0104a"/><path d="M14.6,18.2 L14.9,13.0" stroke="#aaa8d4" stroke-width="3.9" fill="none"/><path d="M14.9,13.2 Q15.1,9.6 16.6,7.6" stroke="#d9a3c4" stroke-width="3.9" fill="none"/><path d="M16.4,7.9 Q18.2,5.6 21.0,5.8" stroke="#8cc0d8" stroke-width="3.9" fill="none"/><path d="M20.7,5.8 Q23.8,5.9 25.6,8.6" stroke="#8cc038" stroke-width="3.9" fill="none"/><path d="M27.4,13 L29.3,25.3" stroke="#8a96e2" stroke-width="0.9"/><rect x="23.9" y="8.2" width="4.8" height="5.4" rx="1.4" fill="#d52024"/><path d="M24.8,17.6 L27.8,17.2" stroke="#666" stroke-width="0.6"/><circle cx="23.7" cy="17.9" r="1.4" fill="#a0104a"/></g><g transform="translate(0.0,0.0)"><path d="M3.7,6.8 Q3.9,14 4.6,19.7" fill="none" stroke="#eed77a" stroke-width="1.2"/><path d="M4.6,19.3 Q5.8,24.6 9.6,23.6 Q13.4,22.4 13.9,17" fill="none" stroke="#9a9a9a" stroke-width="0.8"/><path d="M4.2,12 L7.6,11.3" stroke="#666" stroke-width="0.6"/><circle cx="8.6" cy="11.1" r="1.4" fill="#a0104a"/><path d="M14.6,18.2 L14.9,13.0" stroke="#aaa8d4" stroke-width="3.9" fill="none"/><path d="M14.9,13.2 Q15.1,9.6 16.6,7.6" stroke="#d9a3c4" stroke-width="3.9" fill="none"/><path d="M16.4,7.9 Q18.2,5.6 21.0,5.8" stroke="#8cc0d8" stroke-width="3.9" fill="none"/><path d="M20.7,5.8 Q23.8,5.9 25.6,8.6" stroke="#8cc038" stroke-width="3.9" fill="none"/><path d="M27.4,13 L29.3,25.3" stroke="#8a96e2" stroke-width="0.9"/><rect x="23.9" y="8.2" width="4.8" height="5.4" rx="1.4" fill="#d52024"/><path d="M24.8,17.6 L27.8,17.2" stroke="#666" stroke-width="0.6"/><circle cx="23.7" cy="17.9" r="1.4" fill="#a0104a"/></g></g><text x="448.50" y="159.20" font-size="10.3" text-anchor="start" fill="#231f20" font-weight="bold" font-style="normal" stroke="#231f20" stroke-width="0.25" >Trimer</text><rect x="480.0" y="164.2" width="2.8" height="7.1" fill="#7c7c7c"/><polygon points="478.6,170.3 484.2,170.3 481.4,177.3" fill="#7c7c7c"/><g transform="translate(478.5,142.6) scale(1.0)"><g transform="translate(5.4,3.0)"><path d="M3.7,6.8 Q3.9,14 4.6,19.7" fill="none" stroke="#eed77a" stroke-width="1.2"/><path d="M4.6,19.3 Q5.8,24.6 9.6,23.6 Q13.4,22.4 13.9,17" fill="none" stroke="#9a9a9a" stroke-width="0.8"/><path d="M4.2,12 L7.6,11.3" stroke="#666" stroke-width="0.6"/><circle cx="8.6" cy="11.1" r="1.4" fill="#a0104a"/><path d="M14.6,18.2 L14.9,13.0" stroke="#aaa8d4" stroke-width="3.9" fill="none"/><path d="M14.9,13.2 Q15.1,9.6 16.6,7.6" stroke="#d9a3c4" stroke-width="3.9" fill="none"/><path d="M16.4,7.9 Q18.2,5.6 21.0,5.8" stroke="#8cc0d8" stroke-width="3.9" fill="none"/><path d="M20.7,5.8 Q23.8,5.9 25.6,8.6" stroke="#8cc038" stroke-width="3.9" fill="none"/><path d="M27.4,13 L29.3,25.3" stroke="#8a96e2" stroke-width="0.9"/><rect x="23.9" y="8.2" width="4.8" height="5.4" rx="1.4" fill="#d52024"/><path d="M24.8,17.6 L27.8,17.2" stroke="#666" stroke-width="0.6"/><circle cx="23.7" cy="17.9" r="1.4" fill="#a0104a"/></g><g transform="translate(2.7,1.5)"><path d="M3.7,6.8 Q3.9,14 4.6,19.7" fill="none" stroke="#eed77a" stroke-width="1.2"/><path d="M4.6,19.3 Q5.8,24.6 9.6,23.6 Q13.4,22.4 13.9,17" fill="none" stroke="#9a9a9a" stroke-width="0.8"/><path d="M4.2,12 L7.6,11.3" stroke="#666" stroke-width="0.6"/><circle cx="8.6" cy="11.1" r="1.4" fill="#a0104a"/><path d="M14.6,18.2 L14.9,13.0" stroke="#aaa8d4" stroke-width="3.9" fill="none"/><path d="M14.9,13.2 Q15.1,9.6 16.6,7.6" stroke="#d9a3c4" stroke-width="3.9" fill="none"/><path d="M16.4,7.9 Q18.2,5.6 21.0,5.8" stroke="#8cc0d8" stroke-width="3.9" fill="none"/><path d="M20.7,5.8 Q23.8,5.9 25.6,8.6" stroke="#8cc038" stroke-width="3.9" fill="none"/><path d="M27.4,13 L29.3,25.3" stroke="#8a96e2" stroke-width="0.9"/><rect x="23.9" y="8.2" width="4.8" height="5.4" rx="1.4" fill="#d52024"/><path d="M24.8,17.6 L27.8,17.2" stroke="#666" stroke-width="0.6"/><circle cx="23.7" cy="17.9" r="1.4" fill="#a0104a"/></g><g transform="translate(0.0,0.0)"><path d="M3.7,6.8 Q3.9,14 4.6,19.7" fill="none" stroke="#eed77a" stroke-width="1.2"/><path d="M4.6,19.3 Q5.8,24.6 9.6,23.6 Q13.4,22.4 13.9,17" fill="none" stroke="#9a9a9a" stroke-width="0.8"/><path d="M4.2,12 L7.6,11.3" stroke="#666" stroke-width="0.6"/><circle cx="8.6" cy="11.1" r="1.4" fill="#a0104a"/><path d="M14.6,18.2 L14.9,13.0" stroke="#aaa8d4" stroke-width="3.9" fill="none"/><path d="M14.9,13.2 Q15.1,9.6 16.6,7.6" stroke="#d9a3c4" stroke-width="3.9" fill="none"/><path d="M16.4,7.9 Q18.2,5.6 21.0,5.8" stroke="#8cc0d8" stroke-width="3.9" fill="none"/><path d="M20.7,5.8 Q23.8,5.9 25.6,8.6" stroke="#8cc038" stroke-width="3.9" fill="none"/><path d="M27.4,13 L29.3,25.3" stroke="#8a96e2" stroke-width="0.9"/><rect x="23.9" y="8.2" width="4.8" height="5.4" rx="1.4" fill="#d52024"/><path d="M24.8,17.6 L27.8,17.2" stroke="#666" stroke-width="0.6"/><circle cx="23.7" cy="17.9" r="1.4" fill="#a0104a"/></g></g><text x="628.80" y="80.30" font-size="10.3" text-anchor="start" fill="#231f20" font-weight="bold" font-style="normal" stroke="#231f20" stroke-width="0.25" >Monomer</text><rect x="667.1" y="83.9" width="2.8" height="7.1" fill="#7c7c7c"/><polygon points="665.7,90.0 671.3,90.0 668.5,97.0" fill="#7c7c7c"/><g transform="translate(673.5,61.7) scale(1.0)"><g transform="translate(0.0,0.0)"><path d="M3.7,6.8 Q3.9,14 4.6,19.7" fill="none" stroke="#eed77a" stroke-width="1.2"/><path d="M4.6,19.3 Q5.8,24.6 9.6,23.6 Q13.4,22.4 13.9,17" fill="none" stroke="#9a9a9a" stroke-width="0.8"/><path d="M4.2,12 L7.6,11.3" stroke="#666" stroke-width="0.6"/><circle cx="8.6" cy="11.1" r="1.4" fill="#a0104a"/><path d="M14.6,18.2 L14.9,13.0" stroke="#aaa8d4" stroke-width="3.9" fill="none"/><path d="M14.9,13.2 Q15.1,9.6 16.6,7.6" stroke="#d9a3c4" stroke-width="3.9" fill="none"/><path d="M16.4,7.9 Q18.2,5.6 21.0,5.8" stroke="#8cc0d8" stroke-width="3.9" fill="none"/><path d="M20.7,5.8 Q23.8,5.9 25.6,8.6" stroke="#8cc038" stroke-width="3.9" fill="none"/><path d="M27.4,13 L29.3,25.3" stroke="#8a96e2" stroke-width="0.9"/><rect x="23.9" y="8.2" width="4.8" height="5.4" rx="1.4" fill="#d52024"/><path d="M24.8,17.6 L27.8,17.2" stroke="#666" stroke-width="0.6"/><circle cx="23.7" cy="17.9" r="1.4" fill="#a0104a"/></g></g><text x="675.10" y="127.30" font-size="10.3" text-anchor="start" fill="#231f20" font-weight="bold" font-style="normal" stroke="#231f20" stroke-width="0.25" >Dimer</text><rect x="698.4" y="132.2" width="2.8" height="7.1" fill="#7c7c7c"/><polygon points="697.0,138.3 702.6,138.3 699.8,145.3" fill="#7c7c7c"/><g transform="translate(703.5,109.9) scale(1.0)"><g transform="translate(2.7,1.5)"><path d="M3.7,6.8 Q3.9,14 4.6,19.7" fill="none" stroke="#eed77a" stroke-width="1.2"/><path d="M4.6,19.3 Q5.8,24.6 9.6,23.6 Q13.4,22.4 13.9,17" fill="none" stroke="#9a9a9a" stroke-width="0.8"/><path d="M4.2,12 L7.6,11.3" stroke="#666" stroke-width="0.6"/><circle cx="8.6" cy="11.1" r="1.4" fill="#a0104a"/><path d="M14.6,18.2 L14.9,13.0" stroke="#aaa8d4" stroke-width="3.9" fill="none"/><path d="M14.9,13.2 Q15.1,9.6 16.6,7.6" stroke="#d9a3c4" stroke-width="3.9" fill="none"/><path d="M16.4,7.9 Q18.2,5.6 21.0,5.8" stroke="#8cc0d8" stroke-width="3.9" fill="none"/><path d="M20.7,5.8 Q23.8,5.9 25.6,8.6" stroke="#8cc038" stroke-width="3.9" fill="none"/><path d="M27.4,13 L29.3,25.3" stroke="#8a96e2" stroke-width="0.9"/><rect x="23.9" y="8.2" width="4.8" height="5.4" rx="1.4" fill="#d52024"/><path d="M24.8,17.6 L27.8,17.2" stroke="#666" stroke-width="0.6"/><circle cx="23.7" cy="17.9" r="1.4" fill="#a0104a"/></g><g transform="translate(0.0,0.0)"><path d="M3.7,6.8 Q3.9,14 4.6,19.7" fill="none" stroke="#eed77a" stroke-width="1.2"/><path d="M4.6,19.3 Q5.8,24.6 9.6,23.6 Q13.4,22.4 13.9,17" fill="none" stroke="#9a9a9a" stroke-width="0.8"/><path d="M4.2,12 L7.6,11.3" stroke="#666" stroke-width="0.6"/><circle cx="8.6" cy="11.1" r="1.4" fill="#a0104a"/><path d="M14.6,18.2 L14.9,13.0" stroke="#aaa8d4" stroke-width="3.9" fill="none"/><path d="M14.9,13.2 Q15.1,9.6 16.6,7.6" stroke="#d9a3c4" stroke-width="3.9" fill="none"/><path d="M16.4,7.9 Q18.2,5.6 21.0,5.8" stroke="#8cc0d8" stroke-width="3.9" fill="none"/><path d="M20.7,5.8 Q23.8,5.9 25.6,8.6" stroke="#8cc038" stroke-width="3.9" fill="none"/><path d="M27.4,13 L29.3,25.3" stroke="#8a96e2" stroke-width="0.9"/><rect x="23.9" y="8.2" width="4.8" height="5.4" rx="1.4" fill="#d52024"/><path d="M24.8,17.6 L27.8,17.2" stroke="#666" stroke-width="0.6"/><circle cx="23.7" cy="17.9" r="1.4" fill="#a0104a"/></g></g><rect x="3.2" y="292.85" width="773.6" height="1.9" fill="#151515"/><rect x="3.2" y="311.25" width="773.6" height="1.9" fill="#151515"/><rect x="3.2" y="329.75" width="773.6" height="1.9" fill="#151515"/><rect x="3.2" y="480.05" width="773.6" height="1.9" fill="#151515"/><text x="328.40" y="307.70" font-size="13.6" text-anchor="middle" fill="#231f20" font-weight="bold" font-style="normal" stroke="#231f20" stroke-width="0.2" textLength="59.3" lengthAdjust="spacingAndGlyphs">Monomer</text><text x="511.80" y="307.70" font-size="13.6" text-anchor="middle" fill="#231f20" font-weight="bold" font-style="normal" stroke="#231f20" stroke-width="0.2" textLength="38" lengthAdjust="spacingAndGlyphs">Dimer</text><text x="690.00" y="307.70" font-size="13.6" text-anchor="middle" fill="#231f20" font-weight="bold" font-style="normal" stroke="#231f20" stroke-width="0.2" textLength="39.6" lengthAdjust="spacingAndGlyphs">Trimer</text><text x="182.30" y="325.90" font-size="13.6" text-anchor="middle" fill="#231f20" font-weight="bold" font-style="normal" stroke="#231f20" stroke-width="0.2" textLength="94.2" lengthAdjust="spacingAndGlyphs">Concentrations</text><text x="280.70" y="325.90" font-size="13.6" text-anchor="middle" fill="#231f20" font-weight="bold" font-style="normal" stroke="#231f20" stroke-width="0.2" textLength="70.6" lengthAdjust="spacingAndGlyphs">Mass (kDa)</text><text x="372.60" y="325.90" font-size="13.6" text-anchor="middle" fill="#231f20" font-weight="bold" font-style="normal" stroke="#231f20" stroke-width="0.2" textLength="70.4" lengthAdjust="spacingAndGlyphs">Counts (%)</text><text x="464.00" y="325.90" font-size="13.6" text-anchor="middle" fill="#231f20" font-weight="bold" font-style="normal" stroke="#231f20" stroke-width="0.2" textLength="71.0" lengthAdjust="spacingAndGlyphs">Mass (kDa)</text><text x="554.70" y="325.90" font-size="13.6" text-anchor="middle" fill="#231f20" font-weight="bold" font-style="normal" stroke="#231f20" stroke-width="0.2" textLength="69.8" lengthAdjust="spacingAndGlyphs">Counts (%)</text><text x="646.40" y="325.90" font-size="13.6" text-anchor="middle" fill="#231f20" font-weight="bold" font-style="normal" stroke="#231f20" stroke-width="0.2" textLength="70.6" lengthAdjust="spacingAndGlyphs">Mass (kDa)</text><text x="733.10" y="325.90" font-size="13.6" text-anchor="middle" fill="#231f20" font-weight="bold" font-style="normal" stroke="#231f20" stroke-width="0.2" textLength="71.0" lengthAdjust="spacingAndGlyphs">Counts (%)</text><text x="182.30" y="343.70" font-size="13.3" text-anchor="middle" fill="#e07a8e" font-weight="bold" font-style="normal" stroke="#e07a8e" stroke-width="0.2" textLength="27.8" lengthAdjust="spacingAndGlyphs">1 nM</text><text x="280.70" y="343.70" font-size="13.3" text-anchor="middle" fill="#e07a8e" font-weight="bold" font-style="normal" stroke="#e07a8e" stroke-width="0.2" >78 ± 24.0</text><text x="372.60" y="343.70" font-size="13.3" text-anchor="middle" fill="#e07a8e" font-weight="bold" font-style="normal" stroke="#e07a8e" stroke-width="0.2" textLength="57.5" lengthAdjust="spacingAndGlyphs">197 (94%)</text><rect x="461.95" y="339.70" width="4.1" height="2.1" fill="#222"/><rect x="552.65" y="339.70" width="4.1" height="2.1" fill="#222"/><rect x="644.35" y="339.70" width="4.1" height="2.1" fill="#222"/><rect x="731.05" y="339.70" width="4.1" height="2.1" fill="#222"/><text x="182.30" y="360.20" font-size="13.3" text-anchor="middle" fill="#cc2244" font-weight="bold" font-style="normal" stroke="#cc2244" stroke-width="0.2" textLength="27.8" lengthAdjust="spacingAndGlyphs">5 nM</text><text x="280.70" y="360.20" font-size="13.3" text-anchor="middle" fill="#cc2244" font-weight="bold" font-style="normal" stroke="#cc2244" stroke-width="0.2" >79 ± 24.0</text><text x="372.60" y="360.20" font-size="13.3" text-anchor="middle" fill="#cc2244" font-weight="bold" font-style="normal" stroke="#cc2244" stroke-width="0.2" textLength="57.5" lengthAdjust="spacingAndGlyphs">460 (98%)</text><rect x="461.95" y="356.20" width="4.1" height="2.1" fill="#222"/><rect x="552.65" y="356.20" width="4.1" height="2.1" fill="#222"/><rect x="644.35" y="356.20" width="4.1" height="2.1" fill="#222"/><rect x="731.05" y="356.20" width="4.1" height="2.1" fill="#222"/><text x="182.30" y="376.70" font-size="13.3" text-anchor="middle" fill="#a8173a" font-weight="bold" font-style="normal" stroke="#a8173a" stroke-width="0.2" textLength="35.8" lengthAdjust="spacingAndGlyphs">25 nM</text><text x="280.70" y="376.70" font-size="13.3" text-anchor="middle" fill="#a8173a" font-weight="bold" font-style="normal" stroke="#a8173a" stroke-width="0.2" >72 ± 16.3</text><text x="372.60" y="376.70" font-size="13.3" text-anchor="middle" fill="#a8173a" font-weight="bold" font-style="normal" stroke="#a8173a" stroke-width="0.2" textLength="57.5" lengthAdjust="spacingAndGlyphs">943 (94%)</text><rect x="461.95" y="372.70" width="4.1" height="2.1" fill="#222"/><rect x="552.65" y="372.70" width="4.1" height="2.1" fill="#222"/><rect x="644.35" y="372.70" width="4.1" height="2.1" fill="#222"/><rect x="731.05" y="372.70" width="4.1" height="2.1" fill="#222"/><text x="182.30" y="393.20" font-size="13.3" text-anchor="middle" fill="#a4c0e6" font-weight="bold" font-style="normal" stroke="#a4c0e6" stroke-width="0.2" textLength="27.8" lengthAdjust="spacingAndGlyphs">1 nM</text><text x="280.70" y="393.20" font-size="13.3" text-anchor="middle" fill="#a4c0e6" font-weight="bold" font-style="normal" stroke="#a4c0e6" stroke-width="0.2" >71 ± 14.0</text><text x="372.60" y="393.20" font-size="13.3" text-anchor="middle" fill="#a4c0e6" font-weight="bold" font-style="normal" stroke="#a4c0e6" stroke-width="0.2" textLength="57.5" lengthAdjust="spacingAndGlyphs">144 (72%)</text><rect x="461.95" y="389.20" width="4.1" height="2.1" fill="#222"/><rect x="552.65" y="389.20" width="4.1" height="2.1" fill="#222"/><rect x="644.35" y="389.20" width="4.1" height="2.1" fill="#222"/><rect x="731.05" y="389.20" width="4.1" height="2.1" fill="#222"/><text x="182.30" y="409.70" font-size="13.3" text-anchor="middle" fill="#5b8bd0" font-weight="bold" font-style="normal" stroke="#5b8bd0" stroke-width="0.2" textLength="27.8" lengthAdjust="spacingAndGlyphs">5 nM</text><text x="280.70" y="409.70" font-size="13.3" text-anchor="middle" fill="#5b8bd0" font-weight="bold" font-style="normal" stroke="#5b8bd0" stroke-width="0.2" >73 ± 10.4</text><text x="372.60" y="409.70" font-size="13.3" text-anchor="middle" fill="#5b8bd0" font-weight="bold" font-style="normal" stroke="#5b8bd0" stroke-width="0.2" textLength="57.5" lengthAdjust="spacingAndGlyphs">837 (72%)</text><text x="464.00" y="409.70" font-size="13.3" text-anchor="middle" fill="#5b8bd0" font-weight="bold" font-style="normal" stroke="#5b8bd0" stroke-width="0.2" >131 ± 19.2</text><text x="554.70" y="409.70" font-size="13.3" text-anchor="middle" fill="#5b8bd0" font-weight="bold" font-style="normal" stroke="#5b8bd0" stroke-width="0.2" textLength="57.5" lengthAdjust="spacingAndGlyphs">255 (22%)</text><rect x="644.35" y="405.70" width="4.1" height="2.1" fill="#222"/><rect x="731.05" y="405.70" width="4.1" height="2.1" fill="#222"/><text x="182.30" y="426.20" font-size="13.3" text-anchor="middle" fill="#2f4f8a" font-weight="bold" font-style="normal" stroke="#2f4f8a" stroke-width="0.2" textLength="35.8" lengthAdjust="spacingAndGlyphs">25 nM</text><text x="280.70" y="426.20" font-size="13.3" text-anchor="middle" fill="#2f4f8a" font-weight="bold" font-style="normal" stroke="#2f4f8a" stroke-width="0.2" >76 ± 11.5</text><text x="372.60" y="426.20" font-size="13.3" text-anchor="middle" fill="#2f4f8a" font-weight="bold" font-style="normal" stroke="#2f4f8a" stroke-width="0.2" textLength="65.0" lengthAdjust="spacingAndGlyphs">1679 (62%)</text><text x="464.00" y="426.20" font-size="13.3" text-anchor="middle" fill="#2f4f8a" font-weight="bold" font-style="normal" stroke="#2f4f8a" stroke-width="0.2" >129 ± 22.0</text><text x="554.70" y="426.20" font-size="13.3" text-anchor="middle" fill="#2f4f8a" font-weight="bold" font-style="normal" stroke="#2f4f8a" stroke-width="0.2" textLength="57.5" lengthAdjust="spacingAndGlyphs">871 (32%)</text><text x="646.40" y="426.20" font-size="13.3" text-anchor="middle" fill="#2f4f8a" font-weight="bold" font-style="normal" stroke="#2f4f8a" stroke-width="0.2" >199 ± 17.0</text><text x="733.10" y="426.20" font-size="13.3" text-anchor="middle" fill="#2f4f8a" font-weight="bold" font-style="normal" stroke="#2f4f8a" stroke-width="0.2" textLength="51.0" lengthAdjust="spacingAndGlyphs">107 (4%)</text><text x="182.30" y="442.70" font-size="13.3" text-anchor="middle" fill="#7fd08c" font-weight="bold" font-style="normal" stroke="#7fd08c" stroke-width="0.2" textLength="27.8" lengthAdjust="spacingAndGlyphs">1 nM</text><text x="280.70" y="442.70" font-size="13.3" text-anchor="middle" fill="#7fd08c" font-weight="bold" font-style="normal" stroke="#7fd08c" stroke-width="0.2" >76 ± 16.5</text><text x="372.60" y="442.70" font-size="13.3" text-anchor="middle" fill="#7fd08c" font-weight="bold" font-style="normal" stroke="#7fd08c" stroke-width="0.2" textLength="57.5" lengthAdjust="spacingAndGlyphs">145 (88%)</text><rect x="461.95" y="438.70" width="4.1" height="2.1" fill="#222"/><rect x="552.65" y="438.70" width="4.1" height="2.1" fill="#222"/><rect x="644.35" y="438.70" width="4.1" height="2.1" fill="#222"/><rect x="731.05" y="438.70" width="4.1" height="2.1" fill="#222"/><text x="182.30" y="459.20" font-size="13.3" text-anchor="middle" fill="#5a9a62" font-weight="bold" font-style="normal" stroke="#5a9a62" stroke-width="0.2" textLength="27.8" lengthAdjust="spacingAndGlyphs">5 nM</text><text x="280.70" y="459.20" font-size="13.3" text-anchor="middle" fill="#5a9a62" font-weight="bold" font-style="normal" stroke="#5a9a62" stroke-width="0.2" >73 ± 11.5</text><text x="372.60" y="459.20" font-size="13.3" text-anchor="middle" fill="#5a9a62" font-weight="bold" font-style="normal" stroke="#5a9a62" stroke-width="0.2" textLength="57.5" lengthAdjust="spacingAndGlyphs">680 (84%)</text><text x="464.00" y="459.20" font-size="13.3" text-anchor="middle" fill="#5a9a62" font-weight="bold" font-style="normal" stroke="#5a9a62" stroke-width="0.2" >135 ± 24.0</text><text x="554.70" y="459.20" font-size="13.3" text-anchor="middle" fill="#5a9a62" font-weight="bold" font-style="normal" stroke="#5a9a62" stroke-width="0.2" textLength="51.0" lengthAdjust="spacingAndGlyphs">90 (11%)</text><rect x="644.35" y="455.20" width="4.1" height="2.1" fill="#222"/><rect x="731.05" y="455.20" width="4.1" height="2.1" fill="#222"/><text x="182.30" y="475.70" font-size="13.3" text-anchor="middle" fill="#3f7a45" font-weight="bold" font-style="normal" stroke="#3f7a45" stroke-width="0.2" textLength="35.8" lengthAdjust="spacingAndGlyphs">25 nM</text><text x="280.70" y="475.70" font-size="13.3" text-anchor="middle" fill="#3f7a45" font-weight="bold" font-style="normal" stroke="#3f7a45" stroke-width="0.2" >77 ± 12.9</text><text x="372.60" y="475.70" font-size="13.3" text-anchor="middle" fill="#3f7a45" font-weight="bold" font-style="normal" stroke="#3f7a45" stroke-width="0.2" textLength="65.0" lengthAdjust="spacingAndGlyphs">2067 (81%)</text><text x="464.00" y="475.70" font-size="13.3" text-anchor="middle" fill="#3f7a45" font-weight="bold" font-style="normal" stroke="#3f7a45" stroke-width="0.2" >127 ± 17.7</text><text x="554.70" y="475.70" font-size="13.3" text-anchor="middle" fill="#3f7a45" font-weight="bold" font-style="normal" stroke="#3f7a45" stroke-width="0.2" textLength="57.5" lengthAdjust="spacingAndGlyphs">294 (12%)</text><rect x="644.35" y="471.70" width="4.1" height="2.1" fill="#222"/><rect x="731.05" y="471.70" width="4.1" height="2.1" fill="#222"/><text x="65.80" y="360.20" font-size="13.3" text-anchor="middle" fill="#a8193c" font-weight="bold" font-style="normal" stroke="#a8193c" stroke-width="0.2" textLength="97.5" lengthAdjust="spacingAndGlyphs">GFP-Tau (<tspan font-style="italic">E. coli</tspan>)</text><text x="65.90" y="409.70" font-size="13.3" text-anchor="middle" fill="#4a6eb0" font-weight="bold" font-style="normal" stroke="#4a6eb0" stroke-width="0.2" textLength="85.5" lengthAdjust="spacingAndGlyphs">GFP-Tau (HEK)</text><text x="65.90" y="459.20" font-size="13.3" text-anchor="middle" fill="#4a8a58" font-weight="bold" font-style="normal" stroke="#4a8a58" stroke-width="0.2" textLength="79.5" lengthAdjust="spacingAndGlyphs">GFP-Tau (Sf9)</text></g></svg>
</body></html>
